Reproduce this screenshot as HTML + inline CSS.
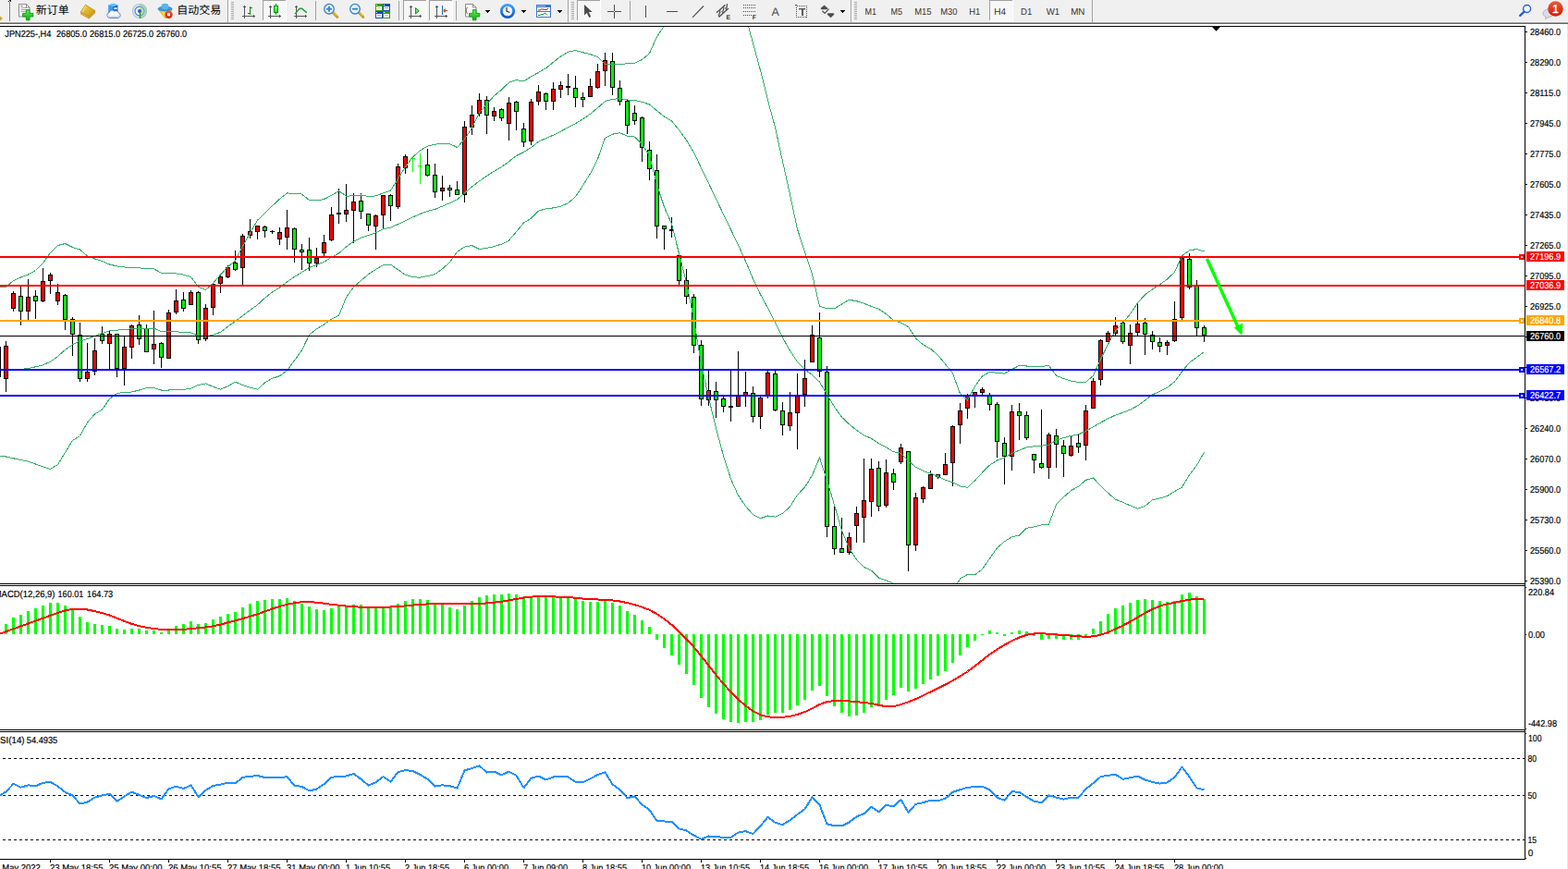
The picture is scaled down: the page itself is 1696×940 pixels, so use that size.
<!DOCTYPE html><html><head><meta charset="utf-8"><title>JPN225-,H4</title><style>html,body{margin:0;padding:0;background:#fff;overflow:hidden}svg{display:block;font-family:"Liberation Sans",sans-serif}</style></head><body><svg width="1696" height="940" viewBox="0 0 1696 940" shape-rendering="crispEdges" text-rendering="geometricPrecision"><rect x="0" y="0" width="1696" height="940" fill="#fff"/>
<rect x="0" y="28" width="1650" height="1" fill="#000"/>
<rect x="1649" y="28" width="1" height="902" fill="#000"/>
<rect x="0" y="631" width="1650" height="1" fill="#000"/>
<rect x="0" y="633" width="1650" height="1" fill="#000"/>
<rect x="0" y="789" width="1650" height="1" fill="#000"/>
<rect x="0" y="791" width="1650" height="1" fill="#000"/>
<rect x="0" y="929" width="1650" height="1" fill="#000"/>
<rect x="1695" y="26" width="1" height="914" fill="#e6e6e6"/>
<defs><clipPath id="cm"><rect x="0" y="29" width="1649" height="602"/></clipPath><clipPath id="c2"><rect x="0" y="634" width="1649" height="155"/></clipPath><clipPath id="c3"><rect x="0" y="792" width="1649" height="137"/></clipPath></defs>
<g clip-path="url(#cm)">
<rect x="-2" y="375" width="1" height="33" fill="#000"/>
<rect x="-4" y="375" width="5" height="33" fill="#000"/>
<rect x="-3" y="376" width="3" height="31" fill="#f00"/>
<rect x="6" y="369" width="1" height="55" fill="#000"/>
<rect x="4" y="374" width="5" height="36" fill="#000"/>
<rect x="5" y="375" width="3" height="34" fill="#f00"/>
<rect x="14" y="315" width="1" height="22" fill="#000"/>
<rect x="12" y="317" width="5" height="17" fill="#000"/>
<rect x="13" y="318" width="3" height="15" fill="#f00"/>
<rect x="22" y="310" width="1" height="42" fill="#000"/>
<rect x="20" y="320" width="5" height="17" fill="#000"/>
<rect x="21" y="321" width="3" height="15" fill="#0f0"/>
<rect x="30" y="302" width="1" height="44" fill="#000"/>
<rect x="28" y="321" width="5" height="16" fill="#000"/>
<rect x="29" y="322" width="3" height="14" fill="#f00"/>
<rect x="38" y="314" width="1" height="31" fill="#000"/>
<rect x="36" y="320" width="5" height="6" fill="#000"/>
<rect x="37" y="321" width="3" height="4" fill="#0f0"/>
<rect x="46" y="290" width="1" height="37" fill="#000"/>
<rect x="44" y="304" width="5" height="22" fill="#000"/>
<rect x="45" y="305" width="3" height="20" fill="#f00"/>
<rect x="54" y="295" width="1" height="23" fill="#000"/>
<rect x="52" y="297" width="5" height="7" fill="#000"/>
<rect x="53" y="298" width="3" height="5" fill="#f00"/>
<rect x="62" y="307" width="1" height="23" fill="#000"/>
<rect x="60" y="316" width="5" height="10" fill="#000"/>
<rect x="61" y="317" width="3" height="8" fill="#f00"/>
<rect x="70" y="318" width="1" height="39" fill="#000"/>
<rect x="68" y="319" width="5" height="27" fill="#000"/>
<rect x="69" y="320" width="3" height="25" fill="#0f0"/>
<rect x="78" y="343" width="1" height="42" fill="#000"/>
<rect x="76" y="345" width="5" height="17" fill="#000"/>
<rect x="77" y="346" width="3" height="15" fill="#0f0"/>
<rect x="86" y="349" width="1" height="64" fill="#000"/>
<rect x="84" y="362" width="5" height="48" fill="#000"/>
<rect x="85" y="363" width="3" height="46" fill="#0f0"/>
<rect x="94" y="371" width="1" height="42" fill="#000"/>
<rect x="92" y="402" width="5" height="8" fill="#000"/>
<rect x="93" y="403" width="3" height="6" fill="#f00"/>
<rect x="102" y="366" width="1" height="40" fill="#000"/>
<rect x="100" y="379" width="5" height="23" fill="#000"/>
<rect x="101" y="380" width="3" height="21" fill="#f00"/>
<rect x="110" y="353" width="1" height="19" fill="#000"/>
<rect x="108" y="361" width="5" height="8" fill="#000"/>
<rect x="109" y="362" width="3" height="6" fill="#0f0"/>
<rect x="118" y="358" width="1" height="41" fill="#000"/>
<rect x="116" y="361" width="5" height="11" fill="#000"/>
<rect x="117" y="362" width="3" height="9" fill="#f00"/>
<rect x="126" y="361" width="1" height="47" fill="#000"/>
<rect x="124" y="361" width="5" height="38" fill="#000"/>
<rect x="125" y="362" width="3" height="36" fill="#0f0"/>
<rect x="134" y="364" width="1" height="53" fill="#000"/>
<rect x="132" y="375" width="5" height="24" fill="#000"/>
<rect x="133" y="376" width="3" height="22" fill="#f00"/>
<rect x="142" y="351" width="1" height="37" fill="#000"/>
<rect x="140" y="352" width="5" height="24" fill="#000"/>
<rect x="141" y="353" width="3" height="22" fill="#f00"/>
<rect x="150" y="341" width="1" height="32" fill="#000"/>
<rect x="148" y="351" width="5" height="16" fill="#000"/>
<rect x="149" y="352" width="3" height="14" fill="#0f0"/>
<rect x="158" y="351" width="1" height="30" fill="#000"/>
<rect x="156" y="355" width="5" height="26" fill="#000"/>
<rect x="157" y="356" width="3" height="24" fill="#0f0"/>
<rect x="166" y="336" width="1" height="58" fill="#000"/>
<rect x="164" y="372" width="5" height="6" fill="#000"/>
<rect x="165" y="373" width="3" height="4" fill="#f00"/>
<rect x="174" y="370" width="1" height="28" fill="#000"/>
<rect x="172" y="371" width="5" height="16" fill="#000"/>
<rect x="173" y="372" width="3" height="14" fill="#0f0"/>
<rect x="182" y="335" width="1" height="53" fill="#000"/>
<rect x="180" y="338" width="5" height="50" fill="#000"/>
<rect x="181" y="339" width="3" height="48" fill="#f00"/>
<rect x="190" y="313" width="1" height="27" fill="#000"/>
<rect x="188" y="325" width="5" height="13" fill="#000"/>
<rect x="189" y="326" width="3" height="11" fill="#f00"/>
<rect x="198" y="316" width="1" height="21" fill="#000"/>
<rect x="196" y="324" width="5" height="10" fill="#000"/>
<rect x="197" y="325" width="3" height="8" fill="#0f0"/>
<rect x="206" y="314" width="1" height="16" fill="#000"/>
<rect x="204" y="316" width="5" height="14" fill="#000"/>
<rect x="205" y="317" width="3" height="12" fill="#f00"/>
<rect x="214" y="315" width="1" height="57" fill="#000"/>
<rect x="212" y="316" width="5" height="52" fill="#000"/>
<rect x="213" y="317" width="3" height="50" fill="#0f0"/>
<rect x="222" y="329" width="1" height="40" fill="#000"/>
<rect x="220" y="333" width="5" height="34" fill="#000"/>
<rect x="221" y="334" width="3" height="32" fill="#f00"/>
<rect x="230" y="307" width="1" height="34" fill="#000"/>
<rect x="228" y="307" width="5" height="26" fill="#000"/>
<rect x="229" y="308" width="3" height="24" fill="#f00"/>
<rect x="238" y="298" width="1" height="19" fill="#000"/>
<rect x="236" y="299" width="5" height="8" fill="#000"/>
<rect x="237" y="300" width="3" height="6" fill="#f00"/>
<rect x="246" y="287" width="1" height="14" fill="#000"/>
<rect x="244" y="289" width="5" height="11" fill="#000"/>
<rect x="245" y="290" width="3" height="9" fill="#f00"/>
<rect x="254" y="271" width="1" height="22" fill="#000"/>
<rect x="252" y="284" width="5" height="8" fill="#000"/>
<rect x="253" y="285" width="3" height="6" fill="#0f0"/>
<rect x="262" y="253" width="1" height="55" fill="#000"/>
<rect x="260" y="255" width="5" height="35" fill="#000"/>
<rect x="261" y="256" width="3" height="33" fill="#f00"/>
<rect x="270" y="237" width="1" height="21" fill="#000"/>
<rect x="268" y="250" width="5" height="5" fill="#000"/>
<rect x="269" y="251" width="3" height="3" fill="#f00"/>
<rect x="278" y="244" width="1" height="15" fill="#000"/>
<rect x="276" y="244" width="5" height="7" fill="#000"/>
<rect x="277" y="245" width="3" height="5" fill="#f00"/>
<rect x="286" y="244" width="1" height="13" fill="#000"/>
<rect x="284" y="245" width="5" height="5" fill="#000"/>
<rect x="285" y="246" width="3" height="3" fill="#0f0"/>
<rect x="294" y="249" width="1" height="4" fill="#000"/>
<rect x="292" y="250" width="5" height="1" fill="#000"/>
<rect x="302" y="246" width="1" height="19" fill="#000"/>
<rect x="300" y="251" width="5" height="8" fill="#000"/>
<rect x="301" y="252" width="3" height="6" fill="#f00"/>
<rect x="310" y="227" width="1" height="43" fill="#000"/>
<rect x="308" y="246" width="5" height="11" fill="#000"/>
<rect x="309" y="247" width="3" height="9" fill="#f00"/>
<rect x="318" y="246" width="1" height="38" fill="#000"/>
<rect x="316" y="247" width="5" height="23" fill="#000"/>
<rect x="317" y="248" width="3" height="21" fill="#0f0"/>
<rect x="326" y="264" width="1" height="28" fill="#000"/>
<rect x="324" y="270" width="5" height="3" fill="#000"/>
<rect x="325" y="271" width="3" height="1" fill="#0f0"/>
<rect x="334" y="257" width="1" height="36" fill="#000"/>
<rect x="332" y="270" width="5" height="15" fill="#000"/>
<rect x="333" y="271" width="3" height="13" fill="#0f0"/>
<rect x="342" y="268" width="1" height="21" fill="#000"/>
<rect x="340" y="279" width="5" height="6" fill="#000"/>
<rect x="341" y="280" width="3" height="4" fill="#f00"/>
<rect x="350" y="254" width="1" height="23" fill="#000"/>
<rect x="348" y="262" width="5" height="12" fill="#000"/>
<rect x="349" y="263" width="3" height="10" fill="#f00"/>
<rect x="358" y="224" width="1" height="37" fill="#000"/>
<rect x="356" y="232" width="5" height="28" fill="#000"/>
<rect x="357" y="233" width="3" height="26" fill="#f00"/>
<rect x="366" y="204" width="1" height="38" fill="#000"/>
<rect x="364" y="230" width="5" height="2" fill="#000"/>
<rect x="374" y="199" width="1" height="41" fill="#000"/>
<rect x="372" y="227" width="5" height="5" fill="#000"/>
<rect x="373" y="228" width="3" height="3" fill="#f00"/>
<rect x="382" y="209" width="1" height="54" fill="#000"/>
<rect x="380" y="218" width="5" height="10" fill="#000"/>
<rect x="381" y="219" width="3" height="8" fill="#f00"/>
<rect x="390" y="209" width="1" height="28" fill="#000"/>
<rect x="388" y="217" width="5" height="12" fill="#000"/>
<rect x="389" y="218" width="3" height="10" fill="#0f0"/>
<rect x="398" y="231" width="1" height="19" fill="#000"/>
<rect x="396" y="231" width="5" height="13" fill="#000"/>
<rect x="397" y="232" width="3" height="11" fill="#0f0"/>
<rect x="406" y="232" width="1" height="38" fill="#000"/>
<rect x="404" y="233" width="5" height="12" fill="#000"/>
<rect x="405" y="234" width="3" height="10" fill="#f00"/>
<rect x="414" y="211" width="1" height="36" fill="#000"/>
<rect x="412" y="211" width="5" height="22" fill="#000"/>
<rect x="413" y="212" width="3" height="20" fill="#f00"/>
<rect x="422" y="210" width="1" height="29" fill="#000"/>
<rect x="420" y="211" width="5" height="12" fill="#000"/>
<rect x="421" y="212" width="3" height="10" fill="#0f0"/>
<rect x="430" y="177" width="1" height="49" fill="#000"/>
<rect x="428" y="180" width="5" height="44" fill="#000"/>
<rect x="429" y="181" width="3" height="42" fill="#f00"/>
<rect x="438" y="167" width="1" height="21" fill="#000"/>
<rect x="436" y="169" width="5" height="13" fill="#000"/>
<rect x="437" y="170" width="3" height="11" fill="#f00"/>
<rect x="446" y="170" width="1" height="16" fill="#0f0"/>
<rect x="444" y="171" width="5" height="1" fill="#0f0"/>
<rect x="454" y="166" width="1" height="33" fill="#0f0"/>
<rect x="452" y="179" width="5" height="1" fill="#0f0"/>
<rect x="462" y="161" width="1" height="30" fill="#000"/>
<rect x="460" y="178" width="5" height="12" fill="#000"/>
<rect x="461" y="179" width="3" height="10" fill="#0f0"/>
<rect x="470" y="177" width="1" height="37" fill="#000"/>
<rect x="468" y="189" width="5" height="19" fill="#000"/>
<rect x="469" y="190" width="3" height="17" fill="#0f0"/>
<rect x="478" y="190" width="1" height="27" fill="#000"/>
<rect x="476" y="203" width="5" height="4" fill="#000"/>
<rect x="477" y="204" width="3" height="2" fill="#f00"/>
<rect x="486" y="200" width="1" height="13" fill="#000"/>
<rect x="484" y="203" width="5" height="3" fill="#000"/>
<rect x="485" y="204" width="3" height="1" fill="#0f0"/>
<rect x="494" y="196" width="1" height="15" fill="#000"/>
<rect x="492" y="205" width="5" height="6" fill="#000"/>
<rect x="493" y="206" width="3" height="4" fill="#0f0"/>
<rect x="502" y="131" width="1" height="88" fill="#000"/>
<rect x="500" y="137" width="5" height="74" fill="#000"/>
<rect x="501" y="138" width="3" height="72" fill="#f00"/>
<rect x="510" y="114" width="1" height="32" fill="#000"/>
<rect x="508" y="124" width="5" height="14" fill="#000"/>
<rect x="509" y="125" width="3" height="12" fill="#f00"/>
<rect x="518" y="101" width="1" height="25" fill="#000"/>
<rect x="516" y="108" width="5" height="15" fill="#000"/>
<rect x="517" y="109" width="3" height="13" fill="#f00"/>
<rect x="526" y="104" width="1" height="41" fill="#000"/>
<rect x="524" y="108" width="5" height="17" fill="#000"/>
<rect x="525" y="109" width="3" height="15" fill="#0f0"/>
<rect x="534" y="116" width="1" height="15" fill="#000"/>
<rect x="532" y="120" width="5" height="6" fill="#000"/>
<rect x="533" y="121" width="3" height="4" fill="#f00"/>
<rect x="542" y="117" width="1" height="14" fill="#000"/>
<rect x="540" y="118" width="5" height="10" fill="#000"/>
<rect x="541" y="119" width="3" height="8" fill="#0f0"/>
<rect x="550" y="105" width="1" height="47" fill="#000"/>
<rect x="548" y="111" width="5" height="23" fill="#000"/>
<rect x="549" y="112" width="3" height="21" fill="#f00"/>
<rect x="558" y="109" width="1" height="32" fill="#000"/>
<rect x="556" y="110" width="5" height="11" fill="#000"/>
<rect x="557" y="111" width="3" height="9" fill="#0f0"/>
<rect x="566" y="133" width="1" height="26" fill="#000"/>
<rect x="564" y="139" width="5" height="15" fill="#000"/>
<rect x="565" y="140" width="3" height="13" fill="#0f0"/>
<rect x="574" y="107" width="1" height="50" fill="#000"/>
<rect x="572" y="110" width="5" height="43" fill="#000"/>
<rect x="573" y="111" width="3" height="41" fill="#f00"/>
<rect x="582" y="92" width="1" height="22" fill="#000"/>
<rect x="580" y="99" width="5" height="11" fill="#000"/>
<rect x="581" y="100" width="3" height="9" fill="#f00"/>
<rect x="590" y="100" width="1" height="19" fill="#000"/>
<rect x="588" y="101" width="5" height="9" fill="#000"/>
<rect x="589" y="102" width="3" height="7" fill="#0f0"/>
<rect x="598" y="89" width="1" height="30" fill="#000"/>
<rect x="596" y="96" width="5" height="14" fill="#000"/>
<rect x="597" y="97" width="3" height="12" fill="#f00"/>
<rect x="606" y="88" width="1" height="18" fill="#000"/>
<rect x="604" y="92" width="5" height="5" fill="#000"/>
<rect x="605" y="93" width="3" height="3" fill="#f00"/>
<rect x="614" y="80" width="1" height="23" fill="#000"/>
<rect x="612" y="93" width="5" height="2" fill="#000"/>
<rect x="622" y="82" width="1" height="34" fill="#000"/>
<rect x="620" y="95" width="5" height="11" fill="#000"/>
<rect x="621" y="96" width="3" height="9" fill="#0f0"/>
<rect x="630" y="100" width="1" height="16" fill="#000"/>
<rect x="628" y="105" width="5" height="3" fill="#000"/>
<rect x="629" y="106" width="3" height="1" fill="#0f0"/>
<rect x="638" y="85" width="1" height="20" fill="#000"/>
<rect x="636" y="93" width="5" height="12" fill="#000"/>
<rect x="637" y="94" width="3" height="10" fill="#f00"/>
<rect x="646" y="69" width="1" height="27" fill="#000"/>
<rect x="644" y="77" width="5" height="18" fill="#000"/>
<rect x="645" y="78" width="3" height="16" fill="#f00"/>
<rect x="654" y="57" width="1" height="36" fill="#000"/>
<rect x="652" y="65" width="5" height="12" fill="#000"/>
<rect x="653" y="66" width="3" height="10" fill="#f00"/>
<rect x="662" y="57" width="1" height="46" fill="#000"/>
<rect x="660" y="66" width="5" height="29" fill="#000"/>
<rect x="661" y="67" width="3" height="27" fill="#0f0"/>
<rect x="670" y="87" width="1" height="27" fill="#000"/>
<rect x="668" y="95" width="5" height="15" fill="#000"/>
<rect x="669" y="96" width="3" height="13" fill="#0f0"/>
<rect x="678" y="108" width="1" height="37" fill="#000"/>
<rect x="676" y="109" width="5" height="27" fill="#000"/>
<rect x="677" y="110" width="3" height="25" fill="#0f0"/>
<rect x="686" y="114" width="1" height="21" fill="#000"/>
<rect x="684" y="122" width="5" height="9" fill="#000"/>
<rect x="685" y="123" width="3" height="7" fill="#0f0"/>
<rect x="694" y="126" width="1" height="49" fill="#000"/>
<rect x="692" y="127" width="5" height="33" fill="#000"/>
<rect x="693" y="128" width="3" height="31" fill="#0f0"/>
<rect x="702" y="153" width="1" height="42" fill="#000"/>
<rect x="700" y="162" width="5" height="21" fill="#000"/>
<rect x="701" y="163" width="3" height="19" fill="#0f0"/>
<rect x="710" y="167" width="1" height="91" fill="#000"/>
<rect x="708" y="184" width="5" height="61" fill="#000"/>
<rect x="709" y="185" width="3" height="59" fill="#0f0"/>
<rect x="718" y="244" width="1" height="26" fill="#000"/>
<rect x="716" y="244" width="5" height="4" fill="#000"/>
<rect x="717" y="245" width="3" height="2" fill="#0f0"/>
<rect x="726" y="235" width="1" height="22" fill="#000"/>
<rect x="724" y="248" width="5" height="2" fill="#000"/>
<rect x="734" y="276" width="1" height="32" fill="#000"/>
<rect x="732" y="276" width="5" height="28" fill="#000"/>
<rect x="733" y="277" width="3" height="26" fill="#0f0"/>
<rect x="742" y="291" width="1" height="38" fill="#000"/>
<rect x="740" y="303" width="5" height="18" fill="#000"/>
<rect x="741" y="304" width="3" height="16" fill="#0f0"/>
<rect x="750" y="318" width="1" height="64" fill="#000"/>
<rect x="748" y="321" width="5" height="53" fill="#000"/>
<rect x="749" y="322" width="3" height="51" fill="#0f0"/>
<rect x="758" y="368" width="1" height="71" fill="#000"/>
<rect x="756" y="373" width="5" height="59" fill="#000"/>
<rect x="757" y="374" width="3" height="57" fill="#0f0"/>
<rect x="766" y="401" width="1" height="38" fill="#000"/>
<rect x="764" y="422" width="5" height="11" fill="#000"/>
<rect x="765" y="423" width="3" height="9" fill="#f00"/>
<rect x="774" y="413" width="1" height="39" fill="#000"/>
<rect x="772" y="423" width="5" height="10" fill="#000"/>
<rect x="773" y="424" width="3" height="8" fill="#0f0"/>
<rect x="782" y="429" width="1" height="17" fill="#000"/>
<rect x="780" y="431" width="5" height="9" fill="#000"/>
<rect x="781" y="432" width="3" height="7" fill="#0f0"/>
<rect x="790" y="401" width="1" height="55" fill="#000"/>
<rect x="788" y="439" width="5" height="2" fill="#000"/>
<rect x="798" y="380" width="1" height="60" fill="#000"/>
<rect x="796" y="428" width="5" height="12" fill="#000"/>
<rect x="797" y="429" width="3" height="10" fill="#f00"/>
<rect x="806" y="402" width="1" height="38" fill="#000"/>
<rect x="804" y="424" width="5" height="4" fill="#000"/>
<rect x="805" y="425" width="3" height="2" fill="#f00"/>
<rect x="814" y="418" width="1" height="39" fill="#000"/>
<rect x="812" y="425" width="5" height="26" fill="#000"/>
<rect x="813" y="426" width="3" height="24" fill="#0f0"/>
<rect x="822" y="429" width="1" height="35" fill="#000"/>
<rect x="820" y="430" width="5" height="21" fill="#000"/>
<rect x="821" y="431" width="3" height="19" fill="#f00"/>
<rect x="830" y="400" width="1" height="31" fill="#000"/>
<rect x="828" y="403" width="5" height="25" fill="#000"/>
<rect x="829" y="404" width="3" height="23" fill="#f00"/>
<rect x="838" y="401" width="1" height="44" fill="#000"/>
<rect x="836" y="404" width="5" height="40" fill="#000"/>
<rect x="837" y="405" width="3" height="38" fill="#0f0"/>
<rect x="846" y="435" width="1" height="36" fill="#000"/>
<rect x="844" y="444" width="5" height="16" fill="#000"/>
<rect x="845" y="445" width="3" height="14" fill="#0f0"/>
<rect x="854" y="424" width="1" height="42" fill="#000"/>
<rect x="852" y="446" width="5" height="15" fill="#000"/>
<rect x="853" y="447" width="3" height="13" fill="#f00"/>
<rect x="862" y="404" width="1" height="82" fill="#000"/>
<rect x="860" y="428" width="5" height="19" fill="#000"/>
<rect x="861" y="429" width="3" height="17" fill="#f00"/>
<rect x="870" y="389" width="1" height="51" fill="#000"/>
<rect x="868" y="409" width="5" height="18" fill="#000"/>
<rect x="869" y="410" width="3" height="16" fill="#f00"/>
<rect x="878" y="352" width="1" height="40" fill="#000"/>
<rect x="876" y="362" width="5" height="30" fill="#000"/>
<rect x="877" y="363" width="3" height="28" fill="#f00"/>
<rect x="886" y="338" width="1" height="70" fill="#000"/>
<rect x="884" y="365" width="5" height="37" fill="#000"/>
<rect x="885" y="366" width="3" height="35" fill="#0f0"/>
<rect x="894" y="396" width="1" height="185" fill="#000"/>
<rect x="892" y="402" width="5" height="168" fill="#000"/>
<rect x="893" y="403" width="3" height="166" fill="#0f0"/>
<rect x="902" y="548" width="1" height="52" fill="#000"/>
<rect x="900" y="569" width="5" height="25" fill="#000"/>
<rect x="901" y="570" width="3" height="23" fill="#0f0"/>
<rect x="910" y="560" width="1" height="38" fill="#000"/>
<rect x="908" y="593" width="5" height="5" fill="#000"/>
<rect x="909" y="594" width="3" height="3" fill="#0f0"/>
<rect x="918" y="576" width="1" height="24" fill="#000"/>
<rect x="916" y="581" width="5" height="17" fill="#000"/>
<rect x="917" y="582" width="3" height="15" fill="#f00"/>
<rect x="926" y="548" width="1" height="39" fill="#000"/>
<rect x="924" y="555" width="5" height="14" fill="#000"/>
<rect x="925" y="556" width="3" height="12" fill="#f00"/>
<rect x="934" y="496" width="1" height="91" fill="#000"/>
<rect x="932" y="541" width="5" height="19" fill="#000"/>
<rect x="933" y="542" width="3" height="17" fill="#f00"/>
<rect x="942" y="496" width="1" height="63" fill="#000"/>
<rect x="940" y="507" width="5" height="36" fill="#000"/>
<rect x="941" y="508" width="3" height="34" fill="#f00"/>
<rect x="950" y="499" width="1" height="54" fill="#000"/>
<rect x="948" y="506" width="5" height="42" fill="#000"/>
<rect x="949" y="507" width="3" height="40" fill="#0f0"/>
<rect x="958" y="497" width="1" height="52" fill="#000"/>
<rect x="956" y="511" width="5" height="36" fill="#000"/>
<rect x="957" y="512" width="3" height="34" fill="#f00"/>
<rect x="966" y="507" width="1" height="23" fill="#000"/>
<rect x="964" y="512" width="5" height="10" fill="#000"/>
<rect x="965" y="513" width="3" height="8" fill="#0f0"/>
<rect x="974" y="480" width="1" height="22" fill="#000"/>
<rect x="972" y="484" width="5" height="16" fill="#000"/>
<rect x="973" y="485" width="3" height="14" fill="#f00"/>
<rect x="982" y="488" width="1" height="130" fill="#000"/>
<rect x="980" y="488" width="5" height="102" fill="#000"/>
<rect x="981" y="489" width="3" height="100" fill="#0f0"/>
<rect x="990" y="533" width="1" height="63" fill="#000"/>
<rect x="988" y="538" width="5" height="52" fill="#000"/>
<rect x="989" y="539" width="3" height="50" fill="#f00"/>
<rect x="998" y="526" width="1" height="18" fill="#000"/>
<rect x="996" y="527" width="5" height="13" fill="#000"/>
<rect x="997" y="528" width="3" height="11" fill="#f00"/>
<rect x="1006" y="509" width="1" height="20" fill="#000"/>
<rect x="1004" y="513" width="5" height="16" fill="#000"/>
<rect x="1005" y="514" width="3" height="14" fill="#f00"/>
<rect x="1014" y="513" width="1" height="5" fill="#000"/>
<rect x="1012" y="513" width="5" height="3" fill="#000"/>
<rect x="1013" y="514" width="3" height="1" fill="#0f0"/>
<rect x="1022" y="490" width="1" height="24" fill="#000"/>
<rect x="1020" y="502" width="5" height="12" fill="#000"/>
<rect x="1021" y="503" width="3" height="10" fill="#f00"/>
<rect x="1030" y="460" width="1" height="66" fill="#000"/>
<rect x="1028" y="461" width="5" height="40" fill="#000"/>
<rect x="1029" y="462" width="3" height="38" fill="#f00"/>
<rect x="1038" y="436" width="1" height="44" fill="#000"/>
<rect x="1036" y="444" width="5" height="16" fill="#000"/>
<rect x="1037" y="445" width="3" height="14" fill="#f00"/>
<rect x="1046" y="426" width="1" height="27" fill="#000"/>
<rect x="1044" y="428" width="5" height="14" fill="#000"/>
<rect x="1045" y="429" width="3" height="12" fill="#f00"/>
<rect x="1054" y="424" width="1" height="17" fill="#000"/>
<rect x="1052" y="424" width="5" height="4" fill="#000"/>
<rect x="1053" y="425" width="3" height="2" fill="#f00"/>
<rect x="1062" y="419" width="1" height="8" fill="#000"/>
<rect x="1060" y="421" width="5" height="4" fill="#000"/>
<rect x="1061" y="422" width="3" height="2" fill="#f00"/>
<rect x="1070" y="425" width="1" height="19" fill="#000"/>
<rect x="1068" y="428" width="5" height="10" fill="#000"/>
<rect x="1069" y="429" width="3" height="8" fill="#0f0"/>
<rect x="1078" y="435" width="1" height="60" fill="#000"/>
<rect x="1076" y="437" width="5" height="41" fill="#000"/>
<rect x="1077" y="438" width="3" height="39" fill="#0f0"/>
<rect x="1086" y="473" width="1" height="51" fill="#000"/>
<rect x="1084" y="479" width="5" height="15" fill="#000"/>
<rect x="1085" y="480" width="3" height="13" fill="#0f0"/>
<rect x="1094" y="438" width="1" height="71" fill="#000"/>
<rect x="1092" y="445" width="5" height="49" fill="#000"/>
<rect x="1093" y="446" width="3" height="47" fill="#f00"/>
<rect x="1102" y="436" width="1" height="40" fill="#000"/>
<rect x="1100" y="445" width="5" height="5" fill="#000"/>
<rect x="1101" y="446" width="3" height="3" fill="#0f0"/>
<rect x="1110" y="445" width="1" height="31" fill="#000"/>
<rect x="1108" y="449" width="5" height="25" fill="#000"/>
<rect x="1109" y="450" width="3" height="23" fill="#0f0"/>
<rect x="1118" y="491" width="1" height="21" fill="#000"/>
<rect x="1116" y="491" width="5" height="7" fill="#000"/>
<rect x="1117" y="492" width="3" height="5" fill="#0f0"/>
<rect x="1126" y="443" width="1" height="64" fill="#000"/>
<rect x="1124" y="501" width="5" height="5" fill="#000"/>
<rect x="1125" y="502" width="3" height="3" fill="#0f0"/>
<rect x="1134" y="468" width="1" height="50" fill="#000"/>
<rect x="1132" y="470" width="5" height="36" fill="#000"/>
<rect x="1133" y="471" width="3" height="34" fill="#f00"/>
<rect x="1142" y="464" width="1" height="42" fill="#000"/>
<rect x="1140" y="471" width="5" height="10" fill="#000"/>
<rect x="1141" y="472" width="3" height="8" fill="#0f0"/>
<rect x="1150" y="476" width="1" height="40" fill="#000"/>
<rect x="1148" y="482" width="5" height="9" fill="#000"/>
<rect x="1149" y="483" width="3" height="7" fill="#0f0"/>
<rect x="1158" y="472" width="1" height="22" fill="#000"/>
<rect x="1156" y="482" width="5" height="11" fill="#000"/>
<rect x="1157" y="483" width="3" height="9" fill="#f00"/>
<rect x="1166" y="470" width="1" height="20" fill="#000"/>
<rect x="1164" y="479" width="5" height="5" fill="#000"/>
<rect x="1165" y="480" width="3" height="3" fill="#0f0"/>
<rect x="1174" y="438" width="1" height="60" fill="#000"/>
<rect x="1172" y="444" width="5" height="38" fill="#000"/>
<rect x="1173" y="445" width="3" height="36" fill="#f00"/>
<rect x="1182" y="409" width="1" height="33" fill="#000"/>
<rect x="1180" y="412" width="5" height="30" fill="#000"/>
<rect x="1181" y="413" width="3" height="28" fill="#f00"/>
<rect x="1190" y="367" width="1" height="50" fill="#000"/>
<rect x="1188" y="368" width="5" height="43" fill="#000"/>
<rect x="1189" y="369" width="3" height="41" fill="#f00"/>
<rect x="1198" y="358" width="1" height="12" fill="#000"/>
<rect x="1196" y="360" width="5" height="10" fill="#000"/>
<rect x="1197" y="361" width="3" height="8" fill="#f00"/>
<rect x="1206" y="343" width="1" height="20" fill="#000"/>
<rect x="1204" y="352" width="5" height="9" fill="#000"/>
<rect x="1205" y="353" width="3" height="7" fill="#f00"/>
<rect x="1214" y="348" width="1" height="24" fill="#000"/>
<rect x="1212" y="349" width="5" height="21" fill="#000"/>
<rect x="1213" y="350" width="3" height="19" fill="#0f0"/>
<rect x="1222" y="351" width="1" height="43" fill="#000"/>
<rect x="1220" y="360" width="5" height="14" fill="#000"/>
<rect x="1221" y="361" width="3" height="12" fill="#f00"/>
<rect x="1230" y="328" width="1" height="36" fill="#000"/>
<rect x="1228" y="350" width="5" height="10" fill="#000"/>
<rect x="1229" y="351" width="3" height="8" fill="#f00"/>
<rect x="1238" y="344" width="1" height="40" fill="#000"/>
<rect x="1236" y="349" width="5" height="13" fill="#000"/>
<rect x="1237" y="350" width="3" height="11" fill="#0f0"/>
<rect x="1246" y="358" width="1" height="20" fill="#000"/>
<rect x="1244" y="362" width="5" height="8" fill="#000"/>
<rect x="1245" y="363" width="3" height="6" fill="#0f0"/>
<rect x="1254" y="365" width="1" height="16" fill="#000"/>
<rect x="1252" y="370" width="5" height="5" fill="#000"/>
<rect x="1253" y="371" width="3" height="3" fill="#0f0"/>
<rect x="1262" y="368" width="1" height="16" fill="#000"/>
<rect x="1260" y="370" width="5" height="4" fill="#000"/>
<rect x="1261" y="371" width="3" height="2" fill="#f00"/>
<rect x="1270" y="326" width="1" height="44" fill="#000"/>
<rect x="1268" y="345" width="5" height="24" fill="#000"/>
<rect x="1269" y="346" width="3" height="22" fill="#f00"/>
<rect x="1278" y="279" width="1" height="67" fill="#000"/>
<rect x="1276" y="279" width="5" height="65" fill="#000"/>
<rect x="1277" y="280" width="3" height="63" fill="#f00"/>
<rect x="1286" y="274" width="1" height="39" fill="#000"/>
<rect x="1284" y="280" width="5" height="31" fill="#000"/>
<rect x="1285" y="281" width="3" height="29" fill="#0f0"/>
<rect x="1294" y="303" width="1" height="61" fill="#000"/>
<rect x="1292" y="309" width="5" height="46" fill="#000"/>
<rect x="1293" y="310" width="3" height="44" fill="#0f0"/>
<rect x="1302" y="352" width="1" height="18" fill="#000"/>
<rect x="1300" y="354" width="5" height="9" fill="#000"/>
<rect x="1301" y="355" width="3" height="7" fill="#0f0"/>
<polyline points="-1.5,311.1 6.5,310.5 14.5,303.5 22.5,300 30.5,297 38.5,292.5 46.5,284.5 54.5,273.5 62.5,265.5 70.5,263.5 78.5,267.5 86.5,270 94.5,277 102.5,280 110.5,282.5 118.5,286 126.5,288 134.5,289 142.5,289.5 150.5,289.8 158.5,290.8 166.5,290.8 174.5,295.3 182.5,295.3 190.5,296 198.5,297.1 206.5,299.6 214.5,310.2 222.5,313.6 230.5,306.4 238.5,297 246.5,288.6 254.5,282.1 262.5,266.4 270.5,251.9 278.5,238.2 286.5,230.5 294.5,222.7 302.5,215.2 310.5,209 318.5,209.1 326.5,210.1 334.5,216.5 342.5,217 350.5,215.6 358.5,211.3 366.5,206.6 374.5,212.2 382.5,211.8 390.5,211 398.5,212.4 406.5,211.9 414.5,208.9 422.5,206.1 430.5,193.6 438.5,180.5 446.5,170 454.5,162.7 462.5,158.1 470.5,156.2 478.5,155.3 486.5,155.6 494.5,159.5 502.5,150.6 510.5,138.4 518.5,122 526.5,112.6 534.5,103.6 542.5,97.1 550.5,89.3 558.5,86.5 566.5,88 574.5,82.8 582.5,78.4 590.5,73.7 598.5,67.3 606.5,61 614.5,56.1 622.5,54.6 630.5,56.8 638.5,58.6 646.5,61.6 654.5,69.8 662.5,69.5 670.5,69.6 678.5,68.7 686.5,68.4 694.5,64.5 702.5,57.7 710.5,39.7 718.5,28.2 726.5,19.6 734.5,6.7 742.5,-2.2 750.5,-15.7 758.5,-30.1 766.5,-33.8 774.5,-33 782.5,-29.5 790.5,-21.4 798.5,-5.7 806.5,17.5 814.5,46.8 822.5,76.3 830.5,108.3 838.5,138.1 846.5,174.6 854.5,210.6 862.5,247.9 870.5,272.5 878.5,296.9 886.5,331.3 894.5,333.9 902.5,333.9 910.5,329 918.5,324.3 926.5,325.7 934.5,328.2 942.5,331.4 950.5,334.2 958.5,339.8 966.5,346.4 974.5,349.1 982.5,353.5 990.5,366.1 998.5,372.9 1006.5,377.3 1014.5,384.2 1022.5,393.9 1030.5,403.7 1038.5,425.8 1046.5,432.9 1054.5,417.9 1062.5,406.8 1070.5,402.3 1078.5,403.4 1086.5,404.1 1094.5,399.6 1102.5,395.4 1110.5,396 1118.5,396 1126.5,396.4 1134.5,395.5 1142.5,406.3 1150.5,409.6 1158.5,412.1 1166.5,413.5 1174.5,413.2 1182.5,406.4 1190.5,388.5 1198.5,372.4 1206.5,358 1214.5,349.4 1222.5,339.6 1230.5,327.7 1238.5,318.8 1246.5,313 1254.5,307.7 1262.5,302.1 1270.5,294.3 1278.5,276.8 1286.5,270.7 1294.5,269.6 1302.5,271.9" fill="none" stroke="#32ad6a" stroke-width="1"/>
<polyline points="-1.5,400.5 6.5,400.5 14.5,400.5 22.5,399.5 30.5,398.5 38.5,396.8 46.5,394.8 54.5,391.3 62.5,385.5 70.5,378.3 78.5,372.8 86.5,369 94.5,366.5 102.5,363.5 110.5,360.5 118.5,357.8 126.5,357.1 134.5,356.7 142.5,355.7 150.5,355.1 158.5,355.3 166.5,355.2 174.5,358.6 182.5,358.7 190.5,358.9 198.5,359.2 206.5,359.8 214.5,363.4 222.5,364.2 230.5,362.3 238.5,359.2 246.5,353.2 254.5,347.6 262.5,341.4 270.5,335.5 278.5,329.7 286.5,322.3 294.5,316 302.5,311 310.5,304.9 318.5,299.4 326.5,294.5 334.5,289.4 342.5,286.4 350.5,283.3 358.5,278.2 366.5,274 374.5,266.9 382.5,261.2 390.5,257.3 398.5,254.5 406.5,251.7 414.5,247.7 422.5,246.1 430.5,242.6 438.5,238.9 446.5,234.9 454.5,231.4 462.5,228.3 470.5,226.4 478.5,223.1 486.5,219.7 494.5,215.9 502.5,208.8 510.5,202 518.5,195.8 526.5,190.4 534.5,185.1 542.5,180.6 550.5,174.7 558.5,168.5 566.5,164.5 574.5,159.5 582.5,153.3 590.5,149.7 598.5,146.1 606.5,142.1 614.5,137.9 622.5,133.7 630.5,128.7 638.5,123.2 646.5,116.7 654.5,109.5 662.5,107.3 670.5,106.6 678.5,108 686.5,108.3 694.5,110.3 702.5,113 710.5,119.7 718.5,126.1 726.5,130.9 734.5,140.6 742.5,151.7 750.5,164.9 758.5,181.7 766.5,198.2 774.5,215.1 782.5,231.8 790.5,248.4 798.5,265.1 806.5,282.5 814.5,301.7 822.5,318.5 830.5,333.2 838.5,348.6 846.5,365.1 854.5,379.4 862.5,391.6 870.5,399.8 878.5,405.5 886.5,413.2 894.5,426.5 902.5,440.1 910.5,451.3 918.5,458.8 926.5,465.4 934.5,470.9 942.5,474.3 950.5,479.6 958.5,483.8 966.5,488.7 974.5,490.4 982.5,498.5 990.5,505.2 998.5,509.4 1006.5,512 1014.5,515.5 1022.5,519.2 1030.5,521.8 1038.5,525.9 1046.5,527.2 1054.5,519.9 1062.5,511.2 1070.5,503.2 1078.5,498 1086.5,495 1094.5,490.2 1102.5,487.3 1110.5,483.6 1118.5,482.9 1126.5,482.1 1134.5,481.4 1142.5,475.9 1150.5,473.6 1158.5,471.4 1166.5,469.9 1174.5,466.2 1182.5,461.7 1190.5,457.1 1198.5,452.9 1206.5,449.1 1214.5,446.3 1222.5,443.2 1230.5,438.9 1238.5,433.1 1246.5,426.9 1254.5,423.4 1262.5,419.4 1270.5,412.9 1278.5,402 1286.5,392.2 1294.5,386.5 1302.5,380.5" fill="none" stroke="#32ad6a" stroke-width="1"/>
<polyline points="-1.5,493 6.5,494 14.5,495.8 22.5,497.5 30.5,499.2 38.5,502 46.5,504.8 54.5,507.5 62.5,502.5 70.5,489.5 78.5,476.5 86.5,471.5 94.5,457 102.5,448 110.5,443 118.5,431.5 126.5,425.5 134.5,424.5 142.5,424 150.5,422 158.5,419.7 166.5,419.5 174.5,422 182.5,422 190.5,421.7 198.5,421.4 206.5,420.1 214.5,416.5 222.5,414.9 230.5,418.2 238.5,421.3 246.5,417.7 254.5,413.2 262.5,416.5 270.5,419.1 278.5,421.2 286.5,414 294.5,409.3 302.5,406.7 310.5,400.9 318.5,389.8 326.5,378.9 334.5,362.3 342.5,355.8 350.5,351 358.5,345.1 366.5,341.4 374.5,321.6 382.5,310.5 390.5,303.5 398.5,296.7 406.5,291.5 414.5,286.6 422.5,286.2 430.5,291.6 438.5,297.3 446.5,299.9 454.5,300.1 462.5,298.6 470.5,296.6 478.5,290.8 486.5,283.7 494.5,272.3 502.5,267.1 510.5,265.5 518.5,269.5 526.5,268.3 534.5,266.6 542.5,264.1 550.5,260.1 558.5,250.6 566.5,241.1 574.5,236.2 582.5,228.2 590.5,225.8 598.5,224.9 606.5,223.3 614.5,219.6 622.5,212.8 630.5,200.6 638.5,187.7 646.5,171.9 654.5,149.1 662.5,145.2 670.5,143.7 678.5,147.2 686.5,148.1 694.5,156.1 702.5,168.3 710.5,199.8 718.5,224 726.5,242.2 734.5,274.4 742.5,305.5 750.5,345.5 758.5,393.5 766.5,430.2 774.5,463.2 782.5,493 790.5,518.2 798.5,535.9 806.5,547.4 814.5,556.7 822.5,560.7 830.5,558 838.5,559.1 846.5,555.5 854.5,548.1 862.5,535.3 870.5,527.1 878.5,514.1 886.5,495 894.5,519.2 902.5,546.3 910.5,573.7 918.5,593.3 926.5,605.2 934.5,613.6 942.5,617.1 950.5,625.1 958.5,627.9 966.5,631.1 974.5,631.7 982.5,643.4 990.5,644.3 998.5,645.9 1006.5,646.7 1014.5,646.8 1022.5,644.6 1030.5,639.9 1038.5,626 1046.5,621.5 1054.5,621.8 1062.5,615.7 1070.5,604.1 1078.5,592.7 1086.5,585.8 1094.5,580.8 1102.5,579.1 1110.5,571.2 1118.5,569.9 1126.5,567.8 1134.5,567.2 1142.5,545.6 1150.5,537.6 1158.5,530.6 1166.5,526.3 1174.5,519.3 1182.5,517 1190.5,525.6 1198.5,533.3 1206.5,540.2 1214.5,543.3 1222.5,546.9 1230.5,550.1 1238.5,547.4 1246.5,540.8 1254.5,539 1262.5,536.6 1270.5,531.5 1278.5,527.1 1286.5,513.7 1294.5,503.3 1302.5,489.2" fill="none" stroke="#32ad6a" stroke-width="1"/>
<rect x="0" y="363" width="1651" height="1" fill="#000"/>
<rect x="0" y="277" width="1649" height="2" fill="#f00"/>
<rect x="0" y="308" width="1650" height="2" fill="#f00"/>
<rect x="0" y="346" width="1649" height="2" fill="#ffa500"/>
<rect x="0" y="399" width="1649" height="2" fill="#00f"/>
<rect x="0" y="427" width="1649" height="2" fill="#00f"/>
<g shape-rendering="auto"><line x1="1305.5" y1="280" x2="1340.5" y2="357" stroke="#0f0" stroke-width="3.4"/><polygon points="1343.4,363 1334.8,354.3 1344.2,349.6" fill="#0f0"/></g>
</g>
<rect x="1643" y="275" width="6" height="6" fill="#f00"/>
<rect x="1645" y="277" width="2" height="2" fill="#fff"/>
<rect x="1643" y="344" width="6" height="6" fill="#ffa500"/>
<rect x="1645" y="346" width="2" height="2" fill="#fff"/>
<rect x="1643" y="397" width="6" height="6" fill="#00f"/>
<rect x="1645" y="399" width="2" height="2" fill="#fff"/>
<rect x="1643" y="425" width="6" height="6" fill="#00f"/>
<rect x="1645" y="427" width="2" height="2" fill="#fff"/>
<polygon points="1311,29 1320,29 1315.5,33.8" fill="#000" shape-rendering="auto"/>
<rect x="1650" y="34" width="2" height="1" fill="#000"/>
<text x="1655" y="38" font-size="10.2" fill="#000" stroke="#000" stroke-width=".18" textLength="33" lengthAdjust="spacingAndGlyphs" xml:space="preserve">28460.0</text>
<rect x="1650" y="67" width="2" height="1" fill="#000"/>
<text x="1655" y="71" font-size="10.2" fill="#000" stroke="#000" stroke-width=".18" textLength="33" lengthAdjust="spacingAndGlyphs" xml:space="preserve">28290.0</text>
<rect x="1650" y="100" width="2" height="1" fill="#000"/>
<text x="1655" y="104" font-size="10.2" fill="#000" stroke="#000" stroke-width=".18" textLength="33" lengthAdjust="spacingAndGlyphs" xml:space="preserve">28115.0</text>
<rect x="1650" y="133" width="2" height="1" fill="#000"/>
<text x="1655" y="137" font-size="10.2" fill="#000" stroke="#000" stroke-width=".18" textLength="33" lengthAdjust="spacingAndGlyphs" xml:space="preserve">27945.0</text>
<rect x="1650" y="166" width="2" height="1" fill="#000"/>
<text x="1655" y="170" font-size="10.2" fill="#000" stroke="#000" stroke-width=".18" textLength="33" lengthAdjust="spacingAndGlyphs" xml:space="preserve">27775.0</text>
<rect x="1650" y="199" width="2" height="1" fill="#000"/>
<text x="1655" y="203" font-size="10.2" fill="#000" stroke="#000" stroke-width=".18" textLength="33" lengthAdjust="spacingAndGlyphs" xml:space="preserve">27605.0</text>
<rect x="1650" y="232" width="2" height="1" fill="#000"/>
<text x="1655" y="236" font-size="10.2" fill="#000" stroke="#000" stroke-width=".18" textLength="33" lengthAdjust="spacingAndGlyphs" xml:space="preserve">27435.0</text>
<rect x="1650" y="265" width="2" height="1" fill="#000"/>
<text x="1655" y="269" font-size="10.2" fill="#000" stroke="#000" stroke-width=".18" textLength="33" lengthAdjust="spacingAndGlyphs" xml:space="preserve">27265.0</text>
<rect x="1650" y="298" width="2" height="1" fill="#000"/>
<text x="1655" y="302" font-size="10.2" fill="#000" stroke="#000" stroke-width=".18" textLength="33" lengthAdjust="spacingAndGlyphs" xml:space="preserve">27095.0</text>
<rect x="1650" y="331" width="2" height="1" fill="#000"/>
<text x="1655" y="335" font-size="10.2" fill="#000" stroke="#000" stroke-width=".18" textLength="33" lengthAdjust="spacingAndGlyphs" xml:space="preserve">26925.0</text>
<rect x="1650" y="364" width="2" height="1" fill="#000"/>
<text x="1655" y="368" font-size="10.2" fill="#000" stroke="#000" stroke-width=".18" textLength="33" lengthAdjust="spacingAndGlyphs" xml:space="preserve">26755.0</text>
<rect x="1650" y="397" width="2" height="1" fill="#000"/>
<text x="1655" y="401" font-size="10.2" fill="#000" stroke="#000" stroke-width=".18" textLength="33" lengthAdjust="spacingAndGlyphs" xml:space="preserve">26585.0</text>
<rect x="1650" y="430" width="2" height="1" fill="#000"/>
<text x="1655" y="434" font-size="10.2" fill="#000" stroke="#000" stroke-width=".18" textLength="33" lengthAdjust="spacingAndGlyphs" xml:space="preserve">26410.0</text>
<rect x="1650" y="463" width="2" height="1" fill="#000"/>
<text x="1655" y="467" font-size="10.2" fill="#000" stroke="#000" stroke-width=".18" textLength="33" lengthAdjust="spacingAndGlyphs" xml:space="preserve">26240.0</text>
<rect x="1650" y="496" width="2" height="1" fill="#000"/>
<text x="1655" y="500" font-size="10.2" fill="#000" stroke="#000" stroke-width=".18" textLength="33" lengthAdjust="spacingAndGlyphs" xml:space="preserve">26070.0</text>
<rect x="1650" y="529" width="2" height="1" fill="#000"/>
<text x="1655" y="533" font-size="10.2" fill="#000" stroke="#000" stroke-width=".18" textLength="33" lengthAdjust="spacingAndGlyphs" xml:space="preserve">25900.0</text>
<rect x="1650" y="562" width="2" height="1" fill="#000"/>
<text x="1655" y="566" font-size="10.2" fill="#000" stroke="#000" stroke-width=".18" textLength="33" lengthAdjust="spacingAndGlyphs" xml:space="preserve">25730.0</text>
<rect x="1650" y="595" width="2" height="1" fill="#000"/>
<text x="1655" y="599" font-size="10.2" fill="#000" stroke="#000" stroke-width=".18" textLength="33" lengthAdjust="spacingAndGlyphs" xml:space="preserve">25560.0</text>
<rect x="1650" y="628" width="2" height="1" fill="#000"/>
<text x="1655" y="632" font-size="10.2" fill="#000" stroke="#000" stroke-width=".18" textLength="33" lengthAdjust="spacingAndGlyphs" xml:space="preserve">25390.0</text>
<rect x="1651" y="272" width="41" height="11" fill="#f00"/>
<text x="1655" y="281" font-size="10.2" fill="#fff" stroke="#fff" stroke-width=".18" textLength="33" lengthAdjust="spacingAndGlyphs" xml:space="preserve">27196.9</text>
<rect x="1651" y="303" width="41" height="11" fill="#f00"/>
<text x="1655" y="312" font-size="10.2" fill="#fff" stroke="#fff" stroke-width=".18" textLength="33" lengthAdjust="spacingAndGlyphs" xml:space="preserve">27036.9</text>
<rect x="1651" y="341" width="41" height="11" fill="#ffa500"/>
<text x="1655" y="350" font-size="10.2" fill="#fff" stroke="#fff" stroke-width=".18" textLength="33" lengthAdjust="spacingAndGlyphs" xml:space="preserve">26840.8</text>
<rect x="1651" y="358" width="41" height="11" fill="#000"/>
<text x="1655" y="367" font-size="10.2" fill="#fff" stroke="#fff" stroke-width=".18" textLength="33" lengthAdjust="spacingAndGlyphs" xml:space="preserve">26760.0</text>
<rect x="1651" y="394" width="41" height="11" fill="#00f"/>
<text x="1655" y="403" font-size="10.2" fill="#fff" stroke="#fff" stroke-width=".18" textLength="33" lengthAdjust="spacingAndGlyphs" xml:space="preserve">26567.2</text>
<rect x="1651" y="422" width="41" height="11" fill="#00f"/>
<text x="1655" y="431" font-size="10.2" fill="#fff" stroke="#fff" stroke-width=".18" textLength="33" lengthAdjust="spacingAndGlyphs" xml:space="preserve">26422.7</text>
<text x="5.3" y="40" font-size="10.2" fill="#000" stroke="#000" stroke-width=".18" textLength="50" lengthAdjust="spacingAndGlyphs" xml:space="preserve">JPN225-,H4</text>
<text x="61" y="40" font-size="10.2" fill="#000" stroke="#000" stroke-width=".18" textLength="33" lengthAdjust="spacingAndGlyphs" xml:space="preserve">26805.0</text>
<text x="97" y="40" font-size="10.2" fill="#000" stroke="#000" stroke-width=".18" textLength="33" lengthAdjust="spacingAndGlyphs" xml:space="preserve">26815.0</text>
<text x="133" y="40" font-size="10.2" fill="#000" stroke="#000" stroke-width=".18" textLength="33" lengthAdjust="spacingAndGlyphs" xml:space="preserve">26725.0</text>
<text x="169" y="40" font-size="10.2" fill="#000" stroke="#000" stroke-width=".18" textLength="33" lengthAdjust="spacingAndGlyphs" xml:space="preserve">26760.0</text>
<g clip-path="url(#c2)">
<rect x="5" y="675" width="3" height="11" fill="#0f0"/>
<rect x="13" y="668" width="3" height="18" fill="#0f0"/>
<rect x="21" y="665" width="3" height="21" fill="#0f0"/>
<rect x="29" y="661" width="3" height="25" fill="#0f0"/>
<rect x="37" y="658" width="3" height="28" fill="#0f0"/>
<rect x="45" y="655" width="3" height="31" fill="#0f0"/>
<rect x="53" y="652" width="3" height="34" fill="#0f0"/>
<rect x="61" y="652" width="3" height="34" fill="#0f0"/>
<rect x="69" y="655" width="3" height="31" fill="#0f0"/>
<rect x="77" y="659" width="3" height="27" fill="#0f0"/>
<rect x="85" y="667" width="3" height="19" fill="#0f0"/>
<rect x="93" y="673" width="3" height="13" fill="#0f0"/>
<rect x="101" y="675" width="3" height="11" fill="#0f0"/>
<rect x="109" y="676" width="3" height="10" fill="#0f0"/>
<rect x="117" y="677" width="3" height="9" fill="#0f0"/>
<rect x="125" y="680" width="3" height="6" fill="#0f0"/>
<rect x="133" y="681" width="3" height="5" fill="#0f0"/>
<rect x="141" y="680" width="3" height="6" fill="#0f0"/>
<rect x="149" y="680" width="3" height="6" fill="#0f0"/>
<rect x="157" y="682" width="3" height="4" fill="#0f0"/>
<rect x="165" y="682" width="3" height="4" fill="#0f0"/>
<rect x="173" y="684" width="3" height="2" fill="#0f0"/>
<rect x="181" y="681" width="3" height="5" fill="#0f0"/>
<rect x="189" y="677" width="3" height="9" fill="#0f0"/>
<rect x="197" y="675" width="3" height="11" fill="#0f0"/>
<rect x="205" y="672" width="3" height="14" fill="#0f0"/>
<rect x="213" y="675" width="3" height="11" fill="#0f0"/>
<rect x="221" y="674" width="3" height="12" fill="#0f0"/>
<rect x="229" y="670" width="3" height="16" fill="#0f0"/>
<rect x="237" y="667" width="3" height="19" fill="#0f0"/>
<rect x="245" y="664" width="3" height="22" fill="#0f0"/>
<rect x="253" y="662" width="3" height="24" fill="#0f0"/>
<rect x="261" y="657" width="3" height="29" fill="#0f0"/>
<rect x="269" y="653" width="3" height="33" fill="#0f0"/>
<rect x="277" y="650" width="3" height="36" fill="#0f0"/>
<rect x="285" y="649" width="3" height="37" fill="#0f0"/>
<rect x="293" y="648" width="3" height="38" fill="#0f0"/>
<rect x="301" y="648" width="3" height="38" fill="#0f0"/>
<rect x="309" y="647" width="3" height="39" fill="#0f0"/>
<rect x="317" y="650" width="3" height="36" fill="#0f0"/>
<rect x="325" y="653" width="3" height="33" fill="#0f0"/>
<rect x="333" y="656" width="3" height="30" fill="#0f0"/>
<rect x="341" y="659" width="3" height="27" fill="#0f0"/>
<rect x="349" y="660" width="3" height="26" fill="#0f0"/>
<rect x="357" y="658" width="3" height="28" fill="#0f0"/>
<rect x="365" y="656" width="3" height="30" fill="#0f0"/>
<rect x="373" y="655" width="3" height="31" fill="#0f0"/>
<rect x="381" y="654" width="3" height="32" fill="#0f0"/>
<rect x="389" y="654" width="3" height="32" fill="#0f0"/>
<rect x="397" y="656" width="3" height="30" fill="#0f0"/>
<rect x="405" y="657" width="3" height="29" fill="#0f0"/>
<rect x="413" y="656" width="3" height="30" fill="#0f0"/>
<rect x="421" y="657" width="3" height="29" fill="#0f0"/>
<rect x="429" y="653" width="3" height="33" fill="#0f0"/>
<rect x="437" y="650" width="3" height="36" fill="#0f0"/>
<rect x="445" y="648" width="3" height="38" fill="#0f0"/>
<rect x="453" y="648" width="3" height="38" fill="#0f0"/>
<rect x="461" y="649" width="3" height="37" fill="#0f0"/>
<rect x="469" y="652" width="3" height="34" fill="#0f0"/>
<rect x="477" y="654" width="3" height="32" fill="#0f0"/>
<rect x="485" y="657" width="3" height="29" fill="#0f0"/>
<rect x="493" y="659" width="3" height="27" fill="#0f0"/>
<rect x="501" y="655" width="3" height="31" fill="#0f0"/>
<rect x="509" y="650" width="3" height="36" fill="#0f0"/>
<rect x="517" y="646" width="3" height="40" fill="#0f0"/>
<rect x="525" y="644" width="3" height="42" fill="#0f0"/>
<rect x="533" y="643" width="3" height="43" fill="#0f0"/>
<rect x="541" y="643" width="3" height="43" fill="#0f0"/>
<rect x="549" y="642" width="3" height="44" fill="#0f0"/>
<rect x="557" y="643" width="3" height="43" fill="#0f0"/>
<rect x="565" y="647" width="3" height="39" fill="#0f0"/>
<rect x="573" y="647" width="3" height="39" fill="#0f0"/>
<rect x="581" y="646" width="3" height="40" fill="#0f0"/>
<rect x="589" y="646" width="3" height="40" fill="#0f0"/>
<rect x="597" y="646" width="3" height="40" fill="#0f0"/>
<rect x="605" y="646" width="3" height="40" fill="#0f0"/>
<rect x="613" y="646" width="3" height="40" fill="#0f0"/>
<rect x="621" y="648" width="3" height="38" fill="#0f0"/>
<rect x="629" y="650" width="3" height="36" fill="#0f0"/>
<rect x="637" y="651" width="3" height="35" fill="#0f0"/>
<rect x="645" y="651" width="3" height="35" fill="#0f0"/>
<rect x="653" y="649" width="3" height="37" fill="#0f0"/>
<rect x="661" y="652" width="3" height="34" fill="#0f0"/>
<rect x="669" y="655" width="3" height="31" fill="#0f0"/>
<rect x="677" y="661" width="3" height="25" fill="#0f0"/>
<rect x="685" y="665" width="3" height="21" fill="#0f0"/>
<rect x="693" y="671" width="3" height="15" fill="#0f0"/>
<rect x="701" y="678" width="3" height="8" fill="#0f0"/>
<rect x="709" y="686" width="3" height="6" fill="#0f0"/>
<rect x="717" y="686" width="3" height="15" fill="#0f0"/>
<rect x="725" y="686" width="3" height="23" fill="#0f0"/>
<rect x="733" y="686" width="3" height="33" fill="#0f0"/>
<rect x="741" y="686" width="3" height="43" fill="#0f0"/>
<rect x="749" y="686" width="3" height="55" fill="#0f0"/>
<rect x="757" y="686" width="3" height="69" fill="#0f0"/>
<rect x="765" y="686" width="3" height="79" fill="#0f0"/>
<rect x="773" y="686" width="3" height="86" fill="#0f0"/>
<rect x="781" y="686" width="3" height="92" fill="#0f0"/>
<rect x="789" y="686" width="3" height="95" fill="#0f0"/>
<rect x="797" y="686" width="3" height="96" fill="#0f0"/>
<rect x="805" y="686" width="3" height="95" fill="#0f0"/>
<rect x="813" y="686" width="3" height="95" fill="#0f0"/>
<rect x="821" y="686" width="3" height="93" fill="#0f0"/>
<rect x="829" y="686" width="3" height="87" fill="#0f0"/>
<rect x="837" y="686" width="3" height="85" fill="#0f0"/>
<rect x="845" y="686" width="3" height="85" fill="#0f0"/>
<rect x="853" y="686" width="3" height="82" fill="#0f0"/>
<rect x="861" y="686" width="3" height="77" fill="#0f0"/>
<rect x="869" y="686" width="3" height="71" fill="#0f0"/>
<rect x="877" y="686" width="3" height="61" fill="#0f0"/>
<rect x="885" y="686" width="3" height="56" fill="#0f0"/>
<rect x="893" y="686" width="3" height="67" fill="#0f0"/>
<rect x="901" y="686" width="3" height="78" fill="#0f0"/>
<rect x="909" y="686" width="3" height="85" fill="#0f0"/>
<rect x="917" y="686" width="3" height="89" fill="#0f0"/>
<rect x="925" y="686" width="3" height="88" fill="#0f0"/>
<rect x="933" y="686" width="3" height="85" fill="#0f0"/>
<rect x="941" y="686" width="3" height="79" fill="#0f0"/>
<rect x="949" y="686" width="3" height="77" fill="#0f0"/>
<rect x="957" y="686" width="3" height="71" fill="#0f0"/>
<rect x="965" y="686" width="3" height="66" fill="#0f0"/>
<rect x="973" y="686" width="3" height="58" fill="#0f0"/>
<rect x="981" y="686" width="3" height="62" fill="#0f0"/>
<rect x="989" y="686" width="3" height="59" fill="#0f0"/>
<rect x="997" y="686" width="3" height="54" fill="#0f0"/>
<rect x="1005" y="686" width="3" height="49" fill="#0f0"/>
<rect x="1013" y="686" width="3" height="45" fill="#0f0"/>
<rect x="1021" y="686" width="3" height="40" fill="#0f0"/>
<rect x="1029" y="686" width="3" height="31" fill="#0f0"/>
<rect x="1037" y="686" width="3" height="23" fill="#0f0"/>
<rect x="1045" y="686" width="3" height="14" fill="#0f0"/>
<rect x="1053" y="686" width="3" height="7" fill="#0f0"/>
<rect x="1061" y="686" width="3" height="1" fill="#0f0"/>
<rect x="1069" y="682" width="3" height="4" fill="#0f0"/>
<rect x="1077" y="684" width="3" height="2" fill="#0f0"/>
<rect x="1085" y="686" width="3" height="2" fill="#0f0"/>
<rect x="1093" y="684" width="3" height="2" fill="#0f0"/>
<rect x="1101" y="682" width="3" height="4" fill="#0f0"/>
<rect x="1109" y="683" width="3" height="3" fill="#0f0"/>
<rect x="1117" y="686" width="3" height="2" fill="#0f0"/>
<rect x="1125" y="686" width="3" height="6" fill="#0f0"/>
<rect x="1133" y="686" width="3" height="5" fill="#0f0"/>
<rect x="1141" y="686" width="3" height="5" fill="#0f0"/>
<rect x="1149" y="686" width="3" height="6" fill="#0f0"/>
<rect x="1157" y="686" width="3" height="6" fill="#0f0"/>
<rect x="1165" y="686" width="3" height="6" fill="#0f0"/>
<rect x="1173" y="686" width="3" height="2" fill="#0f0"/>
<rect x="1181" y="680" width="3" height="6" fill="#0f0"/>
<rect x="1189" y="672" width="3" height="14" fill="#0f0"/>
<rect x="1197" y="664" width="3" height="22" fill="#0f0"/>
<rect x="1205" y="658" width="3" height="28" fill="#0f0"/>
<rect x="1213" y="655" width="3" height="31" fill="#0f0"/>
<rect x="1221" y="652" width="3" height="34" fill="#0f0"/>
<rect x="1229" y="649" width="3" height="37" fill="#0f0"/>
<rect x="1237" y="648" width="3" height="38" fill="#0f0"/>
<rect x="1245" y="649" width="3" height="37" fill="#0f0"/>
<rect x="1253" y="650" width="3" height="36" fill="#0f0"/>
<rect x="1261" y="651" width="3" height="35" fill="#0f0"/>
<rect x="1269" y="650" width="3" height="36" fill="#0f0"/>
<rect x="1277" y="643" width="3" height="43" fill="#0f0"/>
<rect x="1285" y="641" width="3" height="45" fill="#0f0"/>
<rect x="1293" y="645" width="3" height="41" fill="#0f0"/>
<rect x="1301" y="648" width="3" height="38" fill="#0f0"/>
<polyline points="-1.5,686.1 6.5,683.2 14.5,680.3 22.5,677.4 30.5,674.5 38.5,671.6 46.5,668.7 54.5,665.8 62.5,662.9 70.5,660.5 78.5,658.7 86.5,658.6 94.5,659.5 102.5,661.1 110.5,663.1 118.5,665.5 126.5,668.7 134.5,672 142.5,674.8 150.5,677.2 158.5,678.9 166.5,679.9 174.5,680.9 182.5,681.4 190.5,681.5 198.5,680.9 206.5,679.9 214.5,679.3 222.5,678.5 230.5,677.3 238.5,675.6 246.5,673.4 254.5,671.3 262.5,669.1 270.5,666.7 278.5,664.3 286.5,661.4 294.5,658.5 302.5,656 310.5,653.8 318.5,652.2 326.5,651.2 334.5,651.1 342.5,651.7 350.5,652.7 358.5,653.8 366.5,654.7 374.5,655.6 382.5,656.3 390.5,656.7 398.5,657.1 406.5,657.2 414.5,656.9 422.5,656.5 430.5,656.1 438.5,655.4 446.5,654.6 454.5,653.9 462.5,653.4 470.5,652.9 478.5,652.6 486.5,652.7 494.5,653 502.5,653.1 510.5,653.1 518.5,652.9 526.5,652.4 534.5,651.7 542.5,650.8 550.5,649.4 558.5,647.9 566.5,646.5 574.5,645.6 582.5,645.1 590.5,645.2 598.5,645.4 606.5,645.7 614.5,646.1 622.5,646.7 630.5,647.6 638.5,648 646.5,648.5 654.5,648.9 662.5,649.4 670.5,650.5 678.5,652.1 686.5,654.2 694.5,656.7 702.5,659.8 710.5,664.1 718.5,669.6 726.5,675.9 734.5,683.2 742.5,691.2 750.5,699.9 758.5,709.7 766.5,719.9 774.5,730.1 782.5,739.6 790.5,748.5 798.5,756.6 806.5,763.4 814.5,769.2 822.5,773.4 830.5,775.3 838.5,776.1 846.5,775.9 854.5,774.8 862.5,772.9 870.5,770.1 878.5,766.3 886.5,762 894.5,759.1 902.5,758.1 910.5,758.1 918.5,758.5 926.5,759.2 934.5,760 942.5,760.9 950.5,762.7 958.5,764.3 966.5,764.2 974.5,762.1 982.5,759.4 990.5,756.1 998.5,752.3 1006.5,748.4 1014.5,744.6 1022.5,740.6 1030.5,736.2 1038.5,731.4 1046.5,726.5 1054.5,720.5 1062.5,714.1 1070.5,707.9 1078.5,702.4 1086.5,697.6 1094.5,693.2 1102.5,689.5 1110.5,686.8 1118.5,685.5 1126.5,685.3 1134.5,685.7 1142.5,686.4 1150.5,687.1 1158.5,687.6 1166.5,688.3 1174.5,688.8 1182.5,688.4 1190.5,686.8 1198.5,683.9 1206.5,680.5 1214.5,676.7 1222.5,672.4 1230.5,667.8 1238.5,663.1 1246.5,659 1254.5,655.6 1262.5,653.3 1270.5,651.8 1278.5,650.1 1286.5,648.7 1294.5,647.9 1302.5,647.8" fill="none" stroke="#f00" stroke-width="2" stroke-linejoin="round"/>
</g>
<text x="-6.3" y="646" font-size="10.2" fill="#000" stroke="#000" stroke-width=".18" textLength="65.8" lengthAdjust="spacingAndGlyphs" xml:space="preserve">MACD(12,26,9)</text>
<text x="62.6" y="646" font-size="10.2" fill="#000" stroke="#000" stroke-width=".18" textLength="27.6" lengthAdjust="spacingAndGlyphs" xml:space="preserve">160.01</text>
<text x="94" y="646" font-size="10.2" fill="#000" stroke="#000" stroke-width=".18" textLength="28.2" lengthAdjust="spacingAndGlyphs" xml:space="preserve">164.73</text>
<rect x="1650" y="635" width="1" height="1" fill="#000"/>
<text x="1653" y="644" font-size="10.2" fill="#000" stroke="#000" stroke-width=".18" textLength="28" lengthAdjust="spacingAndGlyphs" xml:space="preserve">220.84</text>
<rect x="1650" y="686" width="1" height="1" fill="#000"/>
<text x="1653" y="690" font-size="10.2" fill="#000" stroke="#000" stroke-width=".18" textLength="18" lengthAdjust="spacingAndGlyphs" xml:space="preserve">0.00</text>
<rect x="1650" y="788" width="1" height="1" fill="#000"/>
<text x="1653" y="786" font-size="10.2" fill="#000" stroke="#000" stroke-width=".18" textLength="31" lengthAdjust="spacingAndGlyphs" xml:space="preserve">-442.98</text>
<g clip-path="url(#c3)">
<path d="M3 820.5H1649" stroke="#000" stroke-width="1" stroke-dasharray="3 3" fill="none"/>
<path d="M3 860.5H1649" stroke="#000" stroke-width="1" stroke-dasharray="3 3" fill="none"/>
<path d="M3 908.5H1649" stroke="#000" stroke-width="1" stroke-dasharray="3 3" fill="none"/>
<polyline points="-1.5,861.5 6.5,856.4 14.5,847.8 22.5,851.7 30.5,849.3 38.5,850.3 46.5,846.9 54.5,845.8 62.5,850.4 70.5,857 78.5,860.4 86.5,869.4 94.5,867.7 102.5,862.6 110.5,860.4 118.5,858.8 126.5,866.8 134.5,861.5 142.5,856.6 150.5,859.9 158.5,863 166.5,861 174.5,864.3 182.5,853.4 190.5,850.8 198.5,853 206.5,849.4 214.5,862.1 222.5,854.9 230.5,850 238.5,848.6 246.5,846.8 254.5,847.4 262.5,840.8 270.5,840 278.5,839 286.5,841 294.5,841.1 302.5,841.3 310.5,840.2 318.5,849.8 326.5,850.8 334.5,855.5 342.5,853.5 350.5,848.3 358.5,840.6 366.5,840.3 374.5,839.4 382.5,837 390.5,842.7 398.5,849.6 406.5,846.2 414.5,840.1 422.5,845.6 430.5,835.2 438.5,833 446.5,834.1 454.5,838 462.5,842.8 470.5,850.6 478.5,849.3 486.5,850.2 494.5,852.6 502.5,833.4 510.5,831.1 518.5,828.3 526.5,835.6 534.5,834.7 542.5,838.3 550.5,834.6 558.5,838.9 566.5,852.2 574.5,841.8 582.5,839.6 590.5,843.5 598.5,840.5 606.5,839.7 614.5,840.4 622.5,845.8 630.5,846.3 638.5,842.2 646.5,838.1 654.5,835.3 662.5,848.5 670.5,854.3 678.5,863.2 686.5,861.4 694.5,870.4 702.5,876 710.5,888 718.5,888.5 726.5,888.5 734.5,896.4 742.5,898.5 750.5,903.6 758.5,907.7 766.5,904.5 774.5,905.2 782.5,905.8 790.5,905.8 798.5,900.6 806.5,899.1 814.5,902.1 822.5,893.6 830.5,883.7 838.5,889.9 846.5,892.1 854.5,887.1 862.5,881 870.5,875.1 878.5,862.4 886.5,870.6 894.5,891.3 902.5,893.2 910.5,893.5 918.5,889.4 926.5,883.3 934.5,880.1 942.5,872.7 950.5,878.2 958.5,870.8 966.5,872.4 974.5,865 982.5,878.8 990.5,869.9 998.5,868.1 1006.5,865.8 1014.5,866.3 1022.5,863.8 1030.5,856.9 1038.5,854.2 1046.5,851.8 1054.5,851.2 1062.5,850.7 1070.5,854.4 1078.5,862.8 1086.5,865.7 1094.5,856.2 1102.5,857 1110.5,862 1118.5,866.8 1126.5,868.1 1134.5,860.3 1142.5,862.6 1150.5,864.6 1158.5,862.5 1166.5,862.8 1174.5,853.5 1182.5,847.2 1190.5,840.1 1198.5,838.8 1206.5,837.7 1214.5,842.9 1222.5,841.2 1230.5,839.6 1238.5,843.5 1246.5,845.9 1254.5,847.6 1262.5,846.4 1270.5,840.9 1278.5,829.8 1286.5,840.3 1294.5,852.4 1302.5,854.4" fill="none" stroke="#1e90ff" stroke-width="2" stroke-linejoin="round"/>
</g>
<text x="-7" y="804" font-size="10.2" fill="#000" stroke="#000" stroke-width=".18" textLength="33.6" lengthAdjust="spacingAndGlyphs" xml:space="preserve">RSI(14)</text>
<text x="28.8" y="804" font-size="10.2" fill="#000" stroke="#000" stroke-width=".18" textLength="33.4" lengthAdjust="spacingAndGlyphs" xml:space="preserve">54.4935</text>
<rect x="1650" y="793" width="1" height="1" fill="#000"/>
<text x="1653" y="802" font-size="10.2" fill="#000" stroke="#000" stroke-width=".18" textLength="14.5" lengthAdjust="spacingAndGlyphs" xml:space="preserve">100</text>
<text x="1652.5" y="824" font-size="10.2" fill="#000" stroke="#000" stroke-width=".18" textLength="9.5" lengthAdjust="spacingAndGlyphs" xml:space="preserve">80</text>
<text x="1652.5" y="864" font-size="10.2" fill="#000" stroke="#000" stroke-width=".18" textLength="9.5" lengthAdjust="spacingAndGlyphs" xml:space="preserve">50</text>
<text x="1652.5" y="912" font-size="10.2" fill="#000" stroke="#000" stroke-width=".18" textLength="9.5" lengthAdjust="spacingAndGlyphs" xml:space="preserve">15</text>
<rect x="1650" y="928" width="1" height="1" fill="#000"/>
<text x="1652.8" y="926" font-size="10.2" fill="#000" stroke="#000" stroke-width=".18" textLength="5.5" lengthAdjust="spacingAndGlyphs" xml:space="preserve">0</text>
<rect x="-10" y="930" width="1" height="3" fill="#000"/>
<text x="-10.8" y="942" font-size="10.2" fill="#000" stroke="#000" stroke-width=".18" textLength="54.5" lengthAdjust="spacingAndGlyphs" xml:space="preserve">20 May 2022</text>
<rect x="54" y="930" width="1" height="3" fill="#000"/>
<text x="54" y="942" font-size="10.2" fill="#000" stroke="#000" stroke-width=".18" textLength="57.5" lengthAdjust="spacingAndGlyphs" xml:space="preserve">23 May 18:55</text>
<rect x="118" y="930" width="1" height="3" fill="#000"/>
<text x="118" y="942" font-size="10.2" fill="#000" stroke="#000" stroke-width=".18" textLength="57.5" lengthAdjust="spacingAndGlyphs" xml:space="preserve">25 May 00:00</text>
<rect x="182" y="930" width="1" height="3" fill="#000"/>
<text x="182" y="942" font-size="10.2" fill="#000" stroke="#000" stroke-width=".18" textLength="57.5" lengthAdjust="spacingAndGlyphs" xml:space="preserve">26 May 10:55</text>
<rect x="246" y="930" width="1" height="3" fill="#000"/>
<text x="246" y="942" font-size="10.2" fill="#000" stroke="#000" stroke-width=".18" textLength="57.5" lengthAdjust="spacingAndGlyphs" xml:space="preserve">27 May 18:55</text>
<rect x="310" y="930" width="1" height="3" fill="#000"/>
<text x="310" y="942" font-size="10.2" fill="#000" stroke="#000" stroke-width=".18" textLength="57.5" lengthAdjust="spacingAndGlyphs" xml:space="preserve">31 May 00:00</text>
<rect x="374" y="930" width="1" height="3" fill="#000"/>
<text x="374" y="942" font-size="10.2" fill="#000" stroke="#000" stroke-width=".18" textLength="48" lengthAdjust="spacingAndGlyphs" xml:space="preserve">1 Jun 10:55</text>
<rect x="438" y="930" width="1" height="3" fill="#000"/>
<text x="438" y="942" font-size="10.2" fill="#000" stroke="#000" stroke-width=".18" textLength="48" lengthAdjust="spacingAndGlyphs" xml:space="preserve">2 Jun 18:55</text>
<rect x="502" y="930" width="1" height="3" fill="#000"/>
<text x="502" y="942" font-size="10.2" fill="#000" stroke="#000" stroke-width=".18" textLength="48" lengthAdjust="spacingAndGlyphs" xml:space="preserve">6 Jun 00:00</text>
<rect x="566" y="930" width="1" height="3" fill="#000"/>
<text x="566" y="942" font-size="10.2" fill="#000" stroke="#000" stroke-width=".18" textLength="48" lengthAdjust="spacingAndGlyphs" xml:space="preserve">7 Jun 09:00</text>
<rect x="630" y="930" width="1" height="3" fill="#000"/>
<text x="630" y="942" font-size="10.2" fill="#000" stroke="#000" stroke-width=".18" textLength="48" lengthAdjust="spacingAndGlyphs" xml:space="preserve">8 Jun 18:55</text>
<rect x="694" y="930" width="1" height="3" fill="#000"/>
<text x="694" y="942" font-size="10.2" fill="#000" stroke="#000" stroke-width=".18" textLength="53" lengthAdjust="spacingAndGlyphs" xml:space="preserve">10 Jun 00:00</text>
<rect x="758" y="930" width="1" height="3" fill="#000"/>
<text x="758" y="942" font-size="10.2" fill="#000" stroke="#000" stroke-width=".18" textLength="53" lengthAdjust="spacingAndGlyphs" xml:space="preserve">13 Jun 10:55</text>
<rect x="822" y="930" width="1" height="3" fill="#000"/>
<text x="822" y="942" font-size="10.2" fill="#000" stroke="#000" stroke-width=".18" textLength="53" lengthAdjust="spacingAndGlyphs" xml:space="preserve">14 Jun 18:55</text>
<rect x="886" y="930" width="1" height="3" fill="#000"/>
<text x="886" y="942" font-size="10.2" fill="#000" stroke="#000" stroke-width=".18" textLength="53" lengthAdjust="spacingAndGlyphs" xml:space="preserve">16 Jun 00:00</text>
<rect x="950" y="930" width="1" height="3" fill="#000"/>
<text x="950" y="942" font-size="10.2" fill="#000" stroke="#000" stroke-width=".18" textLength="53" lengthAdjust="spacingAndGlyphs" xml:space="preserve">17 Jun 10:55</text>
<rect x="1014" y="930" width="1" height="3" fill="#000"/>
<text x="1014" y="942" font-size="10.2" fill="#000" stroke="#000" stroke-width=".18" textLength="53" lengthAdjust="spacingAndGlyphs" xml:space="preserve">20 Jun 18:55</text>
<rect x="1078" y="930" width="1" height="3" fill="#000"/>
<text x="1078" y="942" font-size="10.2" fill="#000" stroke="#000" stroke-width=".18" textLength="53" lengthAdjust="spacingAndGlyphs" xml:space="preserve">22 Jun 00:00</text>
<rect x="1142" y="930" width="1" height="3" fill="#000"/>
<text x="1142" y="942" font-size="10.2" fill="#000" stroke="#000" stroke-width=".18" textLength="53" lengthAdjust="spacingAndGlyphs" xml:space="preserve">23 Jun 10:55</text>
<rect x="1206" y="930" width="1" height="3" fill="#000"/>
<text x="1206" y="942" font-size="10.2" fill="#000" stroke="#000" stroke-width=".18" textLength="53" lengthAdjust="spacingAndGlyphs" xml:space="preserve">24 Jun 18:55</text>
<rect x="1270" y="930" width="1" height="3" fill="#000"/>
<text x="1270" y="942" font-size="10.2" fill="#000" stroke="#000" stroke-width=".18" textLength="53" lengthAdjust="spacingAndGlyphs" xml:space="preserve">28 Jun 00:00</text>
<rect x="0" y="0" width="1696" height="24" fill="#f0f0f0"/>
<rect x="0" y="23" width="1696" height="1" fill="#f4f4f4"/>
<rect x="0" y="24" width="1696" height="1" fill="#a0a0a0"/>
<rect x="0" y="25" width="1696" height="1" fill="#696969"/>
<defs><pattern id="dit" width="2" height="2" patternUnits="userSpaceOnUse"><rect width="2" height="2" fill="#f0f0f0"/><rect width="1" height="1" fill="#fff"/><rect x="1" y="1" width="1" height="1" fill="#fff"/></pattern><linearGradient id="gplus" x1="0" y1="0" x2="0" y2="1"><stop offset="0" stop-color="#5cf05c"/><stop offset="1" stop-color="#0ab00a"/></linearGradient><linearGradient id="ggold" x1="0" y1="0" x2="1" y2="1"><stop offset="0" stop-color="#f7dc4a"/><stop offset="1" stop-color="#c88a10"/></linearGradient><linearGradient id="gblue" x1="0" y1="0" x2="0" y2="1"><stop offset="0" stop-color="#3aa0ff"/><stop offset="1" stop-color="#0a58c8"/></linearGradient><linearGradient id="gred" x1="0" y1="0" x2="0" y2="1"><stop offset="0" stop-color="#ea5a3a"/><stop offset="1" stop-color="#d81808"/></linearGradient><linearGradient id="gcan" x1="0" y1="0" x2="0" y2="1"><stop offset="0" stop-color="#8cff8c"/><stop offset="1" stop-color="#18e038"/></linearGradient></defs>
<g shape-rendering="auto"><path d="M0 17.5L3 20 0 22.5z" fill="#d9a520"/></g>
<rect x="10" y="2" width="1" height="21" fill="#808080"/>
<rect x="10" y="0" width="2" height="1" fill="#222"/>
<rect x="11" y="1" width="1" height="1" fill="#222"/>
<rect x="9" y="1" width="1" height="1" fill="#222"/>
<g shape-rendering="auto"><path d="M20.5 4.5h8l3.5 3.5v10h-11.5z" fill="#fff" stroke="#8a8a8a" stroke-width="1"/><path d="M28.5 4.5v3.5h3.5" fill="none" stroke="#8a8a8a" stroke-width="1"/></g>
<rect x="23" y="8" width="6" height="1" fill="#a0a0a0"/>
<rect x="23" y="10" width="6" height="1" fill="#a0a0a0"/>
<rect x="23" y="12" width="6" height="1" fill="#a0a0a0"/>
<rect x="22" y="6" width="3" height="1" fill="#909090"/>
<g shape-rendering="auto"><path d="M28.4 10.6h3.6v3.8h3.8v3.6h-3.8v3.8h-3.6v-3.8h-3.800v-3.600h3.800z" fill="url(#gplus)" stroke="#0a9a0a" stroke-width=".9"/></g>
<text x="38.8" y="15.2" font-size="12" fill="#000" font-family='"Liberation Sans","Noto Sans CJK SC",sans-serif' textLength="36" lengthAdjust="spacingAndGlyphs">新订单</text>
<g shape-rendering="auto"><path d="M87.2 13.2L96.3 18.2 103 11.8V13.900L96.300 20.400 87.200 15.300z" fill="#b07a0a"/><path d="M87.600 14.300L96.300 19.200 102.700 12.900" fill="none" stroke="#ffe9a0" stroke-width=".8"/><path d="M92.500 5.200L103 11.800 96.300 18.200 87.200 13.200z" fill="url(#ggold)" stroke="#b8860b" stroke-width=".8"/><path d="M92.700 6.300L89 12.800" stroke="#fff3b8" stroke-width="1" opacity=".8"/></g>
<g shape-rendering="auto"><path d="M117.500 5.500l5-1.700 5 1.700v8.500h-10z" fill="#1a6ad8"/><path d="M117.500 5.500l4.500 1.800v7h-4.500z" fill="#2ea4ff"/><path d="M117.500 5.500l5-1.700 5 1.700-5.500 1.800z" fill="#6cc0ff"/><rect x="123.200" y="8.300" width="3.600" height="1.600" fill="#e4f2ff"/><path d="M118.800 19.500a3.100 3.100 0 0 1-.6-6.100a3.300 3.300 0 0 1 5.600-1.300a3 3 0 0 1 4.300 1.600a3 3 0 0 1-.3 5.800z" fill="#f4f7fc" stroke="#5878b8" stroke-width=".9"/><path d="M117.800 18.200h11.500" stroke="#b8c8e4" stroke-width="1.300"/></g>
<g shape-rendering="auto" fill="none"><circle cx="151" cy="12" r="7.5" stroke="#a8c0e8" stroke-width="1.2"/><circle cx="151" cy="12" r="5" stroke="#5a86d8" stroke-width="1.3"/><path d="M151 12L151 20A8 8 0 0 0 158.6 9.6A8 8 0 0 0 151 4" fill="#8cc890" stroke="none" opacity=".55"/><circle cx="151" cy="12" r="2" fill="#2858c8" stroke="none"/><path d="M151.5 12v8" stroke="#18a018" stroke-width="1.4"/></g>
<g shape-rendering="auto"><path d="M172 11L186 11 179 20z" fill="#f7d840" stroke="#d0a010" stroke-width=".8"/><ellipse cx="178.5" cy="9.5" rx="8" ry="3" fill="#3a98d8"/><ellipse cx="178.5" cy="7" rx="4" ry="3.2" fill="#5ab4e8"/><circle cx="182.5" cy="15.7" r="4.2" fill="url(#gred)"/><rect x="181" y="14.2" width="3" height="3" fill="#fff"/></g>
<text x="191.3" y="15.2" font-size="12" fill="#000" font-family='"Liberation Sans","Noto Sans CJK SC",sans-serif' textLength="48" lengthAdjust="spacingAndGlyphs">自动交易</text>
<rect x="246" y="0" width="1" height="24" fill="#a0a0a0"/>
<rect x="247" y="0" width="1" height="24" fill="#fff"/>
<rect x="250" y="2" width="3" height="1" fill="#a8a8a8"/>
<rect x="250" y="4" width="3" height="1" fill="#a8a8a8"/>
<rect x="250" y="6" width="3" height="1" fill="#a8a8a8"/>
<rect x="250" y="8" width="3" height="1" fill="#a8a8a8"/>
<rect x="250" y="10" width="3" height="1" fill="#a8a8a8"/>
<rect x="250" y="12" width="3" height="1" fill="#a8a8a8"/>
<rect x="250" y="14" width="3" height="1" fill="#a8a8a8"/>
<rect x="250" y="16" width="3" height="1" fill="#a8a8a8"/>
<rect x="250" y="18" width="3" height="1" fill="#a8a8a8"/>
<rect x="250" y="20" width="3" height="1" fill="#a8a8a8"/>
<rect x="264" y="6" width="1" height="14" fill="#555"/>
<rect x="263" y="7" width="3" height="1" fill="#555"/>
<rect x="262" y="17" width="14" height="1" fill="#555"/>
<rect x="274" y="16" width="1" height="3" fill="#555"/>
<rect x="270" y="7" width="1" height="9" fill="#0a8a0a"/>
<rect x="271" y="8" width="2" height="1" fill="#0a8a0a"/>
<rect x="268" y="14" width="2" height="1" fill="#0a8a0a"/>
<rect x="285" y="1" width="24" height="21" fill="url(#dit)"/>
<rect x="284" y="0" width="25" height="1" fill="#a0a0a0"/>
<rect x="284" y="0" width="1" height="22" fill="#a0a0a0"/>
<rect x="309" y="0" width="1" height="23" fill="#fff"/>
<rect x="284" y="22" width="26" height="1" fill="#fff"/>
<rect x="292" y="6" width="1" height="14" fill="#555"/>
<rect x="291" y="7" width="3" height="1" fill="#555"/>
<rect x="290" y="17" width="14" height="1" fill="#555"/>
<rect x="302" y="16" width="1" height="3" fill="#555"/>
<rect x="298" y="4" width="1" height="12" fill="#0a900a"/>
<rect x="296" y="6" width="5" height="8" fill="#0a900a"/>
<rect x="297" y="7" width="3" height="6" fill="url(#gcan)"/>
<rect x="320" y="6" width="1" height="14" fill="#555"/>
<rect x="319" y="7" width="3" height="1" fill="#555"/>
<rect x="318" y="17" width="14" height="1" fill="#555"/>
<rect x="330" y="16" width="1" height="3" fill="#555"/>
<path d="M319 15C322 12 323 9 325.5 9S329 13 332 13.5" fill="none" stroke="#1a9a2a" stroke-width="1.3" shape-rendering="auto"/>
<rect x="341" y="1" width="1" height="21" fill="#a0a0a0"/>
<g shape-rendering="auto"><path d="M360 13.5l4.800 4.800" stroke="#c89a10" stroke-width="3" stroke-linecap="round"/><path d="M360.4 13.2l4.400 4.400" stroke="#f0d860" stroke-width="1"/><circle cx="356" cy="9.7" r="5.3" fill="#dff2ff" stroke="#3a80c8" stroke-width="1.3"/><path d="M353 9.7h6" stroke="#3a80b8" stroke-width="1.8"/><path d="M356 6.7v6" stroke="#3a80b8" stroke-width="1.8"/></g>
<g shape-rendering="auto"><path d="M388 13.5l4.800 4.800" stroke="#c89a10" stroke-width="3" stroke-linecap="round"/><path d="M388.4 13.2l4.400 4.400" stroke="#f0d860" stroke-width="1"/><circle cx="384" cy="9.7" r="5.3" fill="#dff2ff" stroke="#3a80c8" stroke-width="1.3"/><path d="M381 9.7h6" stroke="#3a80b8" stroke-width="1.8"/></g>
<rect x="406" y="4" width="8" height="8" fill="#3a9a1a"/>
<rect x="407" y="7" width="6" height="4" fill="#fff"/>
<rect x="408" y="8" width="4" height="1" fill="#a4dc8c"/>
<rect x="407" y="5" width="1" height="1" fill="#fff"/>
<rect x="414" y="4" width="8" height="8" fill="#1848c8"/>
<rect x="415" y="7" width="6" height="4" fill="#fff"/>
<rect x="416" y="8" width="4" height="1" fill="#8ca4f0"/>
<rect x="415" y="5" width="1" height="1" fill="#fff"/>
<rect x="406" y="12" width="8" height="8" fill="#1848c8"/>
<rect x="407" y="15" width="6" height="4" fill="#fff"/>
<rect x="408" y="16" width="4" height="1" fill="#8ca4f0"/>
<rect x="407" y="13" width="1" height="1" fill="#fff"/>
<rect x="414" y="12" width="8" height="8" fill="#3a9a1a"/>
<rect x="415" y="15" width="6" height="4" fill="#fff"/>
<rect x="416" y="16" width="4" height="1" fill="#a4dc8c"/>
<rect x="415" y="13" width="1" height="1" fill="#fff"/>
<rect x="431" y="1" width="1" height="21" fill="#a0a0a0"/>
<rect x="437" y="1" width="24" height="21" fill="url(#dit)"/>
<rect x="436" y="0" width="25" height="1" fill="#a0a0a0"/>
<rect x="436" y="0" width="1" height="22" fill="#a0a0a0"/>
<rect x="461" y="0" width="1" height="23" fill="#fff"/>
<rect x="436" y="22" width="26" height="1" fill="#fff"/>
<rect x="444" y="6" width="1" height="14" fill="#555"/>
<rect x="443" y="7" width="3" height="1" fill="#555"/>
<rect x="442" y="17" width="14" height="1" fill="#555"/>
<rect x="454" y="16" width="1" height="3" fill="#555"/>
<path d="M449.5 8.5v6.5l3.8-3.2z" fill="#7be07b" stroke="#0a9a0a" stroke-width="1" shape-rendering="auto"/>
<rect x="465" y="1" width="24" height="21" fill="url(#dit)"/>
<rect x="464" y="0" width="25" height="1" fill="#a0a0a0"/>
<rect x="464" y="0" width="1" height="22" fill="#a0a0a0"/>
<rect x="489" y="0" width="1" height="23" fill="#fff"/>
<rect x="464" y="22" width="26" height="1" fill="#fff"/>
<rect x="472" y="6" width="1" height="14" fill="#555"/>
<rect x="471" y="7" width="3" height="1" fill="#555"/>
<rect x="470" y="17" width="14" height="1" fill="#555"/>
<rect x="482" y="16" width="1" height="3" fill="#555"/>
<rect x="478" y="6" width="1" height="10" fill="#1a6ab0"/>
<path d="M479.500 11.500h4.500M479.800 11.500l2-1.800M479.800 11.500l2 1.800" stroke="#d84a00" stroke-width="1.200" fill="none" shape-rendering="auto"/>
<rect x="493" y="1" width="1" height="21" fill="#a0a0a0"/>
<g shape-rendering="auto"><path d="M503.5 4.5h8l3.5 3.5v10h-11.5z" fill="#fff" stroke="#8a8a8a" stroke-width="1"/><path d="M511.5 4.5v3.5h3.5" fill="none" stroke="#8a8a8a" stroke-width="1"/></g>
<path d="M506 8c-1.5 0-1.5 2-1.5 3.5s0 3.500 1.5 3.500" fill="none" stroke="#806040" stroke-width="1" shape-rendering="auto"/>
<g shape-rendering="auto"><path d="M511.4 10.6h3.6v3.8h3.8v3.6h-3.8v3.8h-3.6v-3.8h-3.800v-3.600h3.800z" fill="url(#gplus)" stroke="#0a9a0a" stroke-width=".9"/></g>
<rect x="525" y="11" width="5" height="1" fill="#000"/>
<rect x="526" y="12" width="3" height="1" fill="#000"/>
<rect x="527" y="13" width="1" height="1" fill="#000"/>
<g shape-rendering="auto"><circle cx="549" cy="12" r="6.700" fill="#f2f5f8" stroke="url(#gblue)" stroke-width="2.700"/><path d="M548 8v4.200l3.300 1.200" stroke="#222" stroke-width="1.100" fill="none"/><path d="M549 6.800v.8M549 16.400v.8M543.800 12h.8M553.400 12h.8" stroke="#8aa" stroke-width=".8"/></g>
<rect x="564" y="11" width="5" height="1" fill="#000"/>
<rect x="565" y="12" width="3" height="1" fill="#000"/>
<rect x="566" y="13" width="1" height="1" fill="#000"/>
<rect x="580" y="5" width="16" height="14" fill="#3b78c4"/>
<rect x="581" y="8" width="14" height="4" fill="#fff"/>
<rect x="581" y="13" width="14" height="5" fill="#fff"/>
<rect x="581" y="6" width="9" height="1" fill="#9cc4f4"/>
<path d="M582 11h2l1.500-1h2.500l1.500 .500h2l1.500-1.500" stroke="#a01808" stroke-width="1" fill="none" shape-rendering="auto"/>
<path d="M582 16.5h2l1.500-1h2l2-1.500 2.500 2.500" stroke="#0a8a1a" stroke-width="1" fill="none" shape-rendering="auto"/>
<rect x="603" y="11" width="5" height="1" fill="#000"/>
<rect x="604" y="12" width="3" height="1" fill="#000"/>
<rect x="605" y="13" width="1" height="1" fill="#000"/>
<rect x="614" y="0" width="1" height="24" fill="#a0a0a0"/>
<rect x="615" y="0" width="1" height="24" fill="#fff"/>
<rect x="618" y="2" width="3" height="1" fill="#a8a8a8"/>
<rect x="618" y="4" width="3" height="1" fill="#a8a8a8"/>
<rect x="618" y="6" width="3" height="1" fill="#a8a8a8"/>
<rect x="618" y="8" width="3" height="1" fill="#a8a8a8"/>
<rect x="618" y="10" width="3" height="1" fill="#a8a8a8"/>
<rect x="618" y="12" width="3" height="1" fill="#a8a8a8"/>
<rect x="618" y="14" width="3" height="1" fill="#a8a8a8"/>
<rect x="618" y="16" width="3" height="1" fill="#a8a8a8"/>
<rect x="618" y="18" width="3" height="1" fill="#a8a8a8"/>
<rect x="618" y="20" width="3" height="1" fill="#a8a8a8"/>
<rect x="625" y="1" width="24" height="21" fill="url(#dit)"/>
<rect x="624" y="0" width="25" height="1" fill="#a0a0a0"/>
<rect x="624" y="0" width="1" height="22" fill="#a0a0a0"/>
<rect x="649" y="0" width="1" height="23" fill="#fff"/>
<rect x="624" y="22" width="26" height="1" fill="#fff"/>
<path d="M632 5v11.500l2.800-2.600 2.400 5 2-1-2.400-4.800h3.800z" fill="#4d4d4d" shape-rendering="auto"/>
<rect x="657" y="12" width="7" height="1" fill="#4d4d4d"/>
<rect x="665" y="12" width="7" height="1" fill="#4d4d4d"/>
<rect x="664" y="5" width="1" height="7" fill="#4d4d4d"/>
<rect x="664" y="13" width="1" height="7" fill="#4d4d4d"/>
<rect x="681" y="1" width="1" height="21" fill="#a0a0a0"/>
<rect x="698" y="6" width="1" height="13" fill="#4d4d4d"/>
<rect x="721" y="12" width="12" height="1" fill="#4d4d4d"/>
<path d="M749 18.8L761 6.500" stroke="#4d4d4d" stroke-width="1.1" shape-rendering="auto"/>
<g shape-rendering="auto" stroke="#4d4d4d" fill="none"><path d="M775 13.800l9.500-8.500M777.500 18.500l10.500-9.500" stroke-width="1.250"/><path d="M776.500 16.200l10.500-9.500" stroke-width=".9" stroke-dasharray="1.500 1"/><path d="M786.600 4l-1.200 7M779 10.500l-1.500 7.500M783 7.500l-1.600 7.500" stroke-width="1.150"/></g>
<g opacity=".99"><text x="785.500" y="21.400" font-size="6.800" font-weight="bold" fill="#333">E</text></g>
<path d="M804 5.5h14" stroke="#4d4d4d" stroke-width="1" stroke-dasharray="1 1"/>
<path d="M804 8.5h14" stroke="#4d4d4d" stroke-width="1" stroke-dasharray="1 1"/>
<path d="M804 12.5h14" stroke="#4d4d4d" stroke-width="1" stroke-dasharray="1 1"/>
<path d="M804 16.5h9" stroke="#4d4d4d" stroke-width="1" stroke-dasharray="1 1"/>
<g opacity=".99"><text x="813.700" y="21.400" font-size="6.800" font-weight="bold" fill="#333">F</text></g>
<g opacity=".99"><text x="834.5" y="17" font-size="12.500" fill="#4d4d4d">A</text></g>
<rect x="861.5" y="6.500" width="11" height="12" fill="none" stroke="#4d4d4d" stroke-width="1" stroke-dasharray="1 1"/>
<rect x="860" y="5" width="2" height="1" fill="#4d4d4d"/>
<rect x="864" y="9" width="7" height="1" fill="#555"/>
<rect x="864" y="10" width="7" height="1" fill="#b4b4b4"/>
<rect x="867" y="10" width="2" height="7" fill="#5c5c5c"/>
<g shape-rendering="auto" fill="#4d4d4d"><path d="M891.500 5.600l4 3.400-1 1.300h-6l-1-1.300z"/><path d="M898.500 19.200l4-3.600-1-1.300h-6l-1 1.300z"/><path d="M889.500 11.800l2.600 2.600 4.400-4.800" fill="none" stroke="#4d4d4d" stroke-width="1.300"/></g>
<rect x="909" y="11" width="5" height="1" fill="#000"/>
<rect x="910" y="12" width="3" height="1" fill="#000"/>
<rect x="911" y="13" width="1" height="1" fill="#000"/>
<rect x="920" y="0" width="1" height="24" fill="#a0a0a0"/>
<rect x="921" y="0" width="1" height="24" fill="#fff"/>
<rect x="924" y="2" width="3" height="1" fill="#a8a8a8"/>
<rect x="924" y="4" width="3" height="1" fill="#a8a8a8"/>
<rect x="924" y="6" width="3" height="1" fill="#a8a8a8"/>
<rect x="924" y="8" width="3" height="1" fill="#a8a8a8"/>
<rect x="924" y="10" width="3" height="1" fill="#a8a8a8"/>
<rect x="924" y="12" width="3" height="1" fill="#a8a8a8"/>
<rect x="924" y="14" width="3" height="1" fill="#a8a8a8"/>
<rect x="924" y="16" width="3" height="1" fill="#a8a8a8"/>
<rect x="924" y="18" width="3" height="1" fill="#a8a8a8"/>
<rect x="924" y="20" width="3" height="1" fill="#a8a8a8"/>
<rect x="1071" y="1" width="24" height="21" fill="url(#dit)"/>
<rect x="1070" y="0" width="25" height="1" fill="#a0a0a0"/>
<rect x="1070" y="0" width="1" height="22" fill="#a0a0a0"/>
<rect x="1095" y="0" width="1" height="23" fill="#fff"/>
<rect x="1070" y="22" width="26" height="1" fill="#fff"/>
<g opacity=".99"><text x="935.5" y="16" font-size="10.2" fill="#333" textLength="12.5" lengthAdjust="spacingAndGlyphs">M1</text></g>
<g opacity=".99"><text x="963.5" y="16" font-size="10.2" fill="#333" textLength="12.5" lengthAdjust="spacingAndGlyphs">M5</text></g>
<g opacity=".99"><text x="989.2" y="16" font-size="10.2" fill="#333" textLength="18.3" lengthAdjust="spacingAndGlyphs">M15</text></g>
<g opacity=".99"><text x="1017.3" y="16" font-size="10.2" fill="#333" textLength="18.2" lengthAdjust="spacingAndGlyphs">M30</text></g>
<g opacity=".99"><text x="1048.2" y="16" font-size="10.2" fill="#333" textLength="12" lengthAdjust="spacingAndGlyphs">H1</text></g>
<g opacity=".99"><text x="1075.3" y="16" font-size="10.2" fill="#333" textLength="12.8" lengthAdjust="spacingAndGlyphs">H4</text></g>
<g opacity=".99"><text x="1104" y="16" font-size="10.2" fill="#333" textLength="12.2" lengthAdjust="spacingAndGlyphs">D1</text></g>
<g opacity=".99"><text x="1131.8" y="16" font-size="10.2" fill="#333" textLength="14.4" lengthAdjust="spacingAndGlyphs">W1</text></g>
<g opacity=".99"><text x="1158.2" y="16" font-size="10.2" fill="#333" textLength="15.2" lengthAdjust="spacingAndGlyphs">MN</text></g>
<rect x="1181" y="0" width="1" height="24" fill="#a0a0a0"/>
<rect x="1182" y="0" width="1" height="24" fill="#fff"/>
<g shape-rendering="auto"><circle cx="1651.6" cy="9.500" r="4" fill="#f4f6ff" stroke="#2a5ad0" stroke-width="1.400"/><path d="M1648.600 12.600l-4.400 4.200" stroke="#2a5ad0" stroke-width="2.400" stroke-linecap="round"/></g>
<g shape-rendering="auto"><path d="M1669 14.500a5.500 4.500 0 0 1 11 0a5.500 4.500 0 0 1-6 4.400l-2.500 1.800 .5-2.400a5 4.500 0 0 1-3-3.800z" fill="#dcdce6" stroke="#a8a8a8" stroke-width=".8"/><circle cx="1682.500" cy="9.500" r="8.300" fill="url(#gred)"/><text x="1682.500" y="14.200" font-size="13" font-weight="bold" fill="#fff" text-anchor="middle" textLength="6.500" lengthAdjust="spacingAndGlyphs">1</text><rect x="1679.500" y="13" width="5.600" height="1.300" fill="#fff"/></g></svg></body></html>
